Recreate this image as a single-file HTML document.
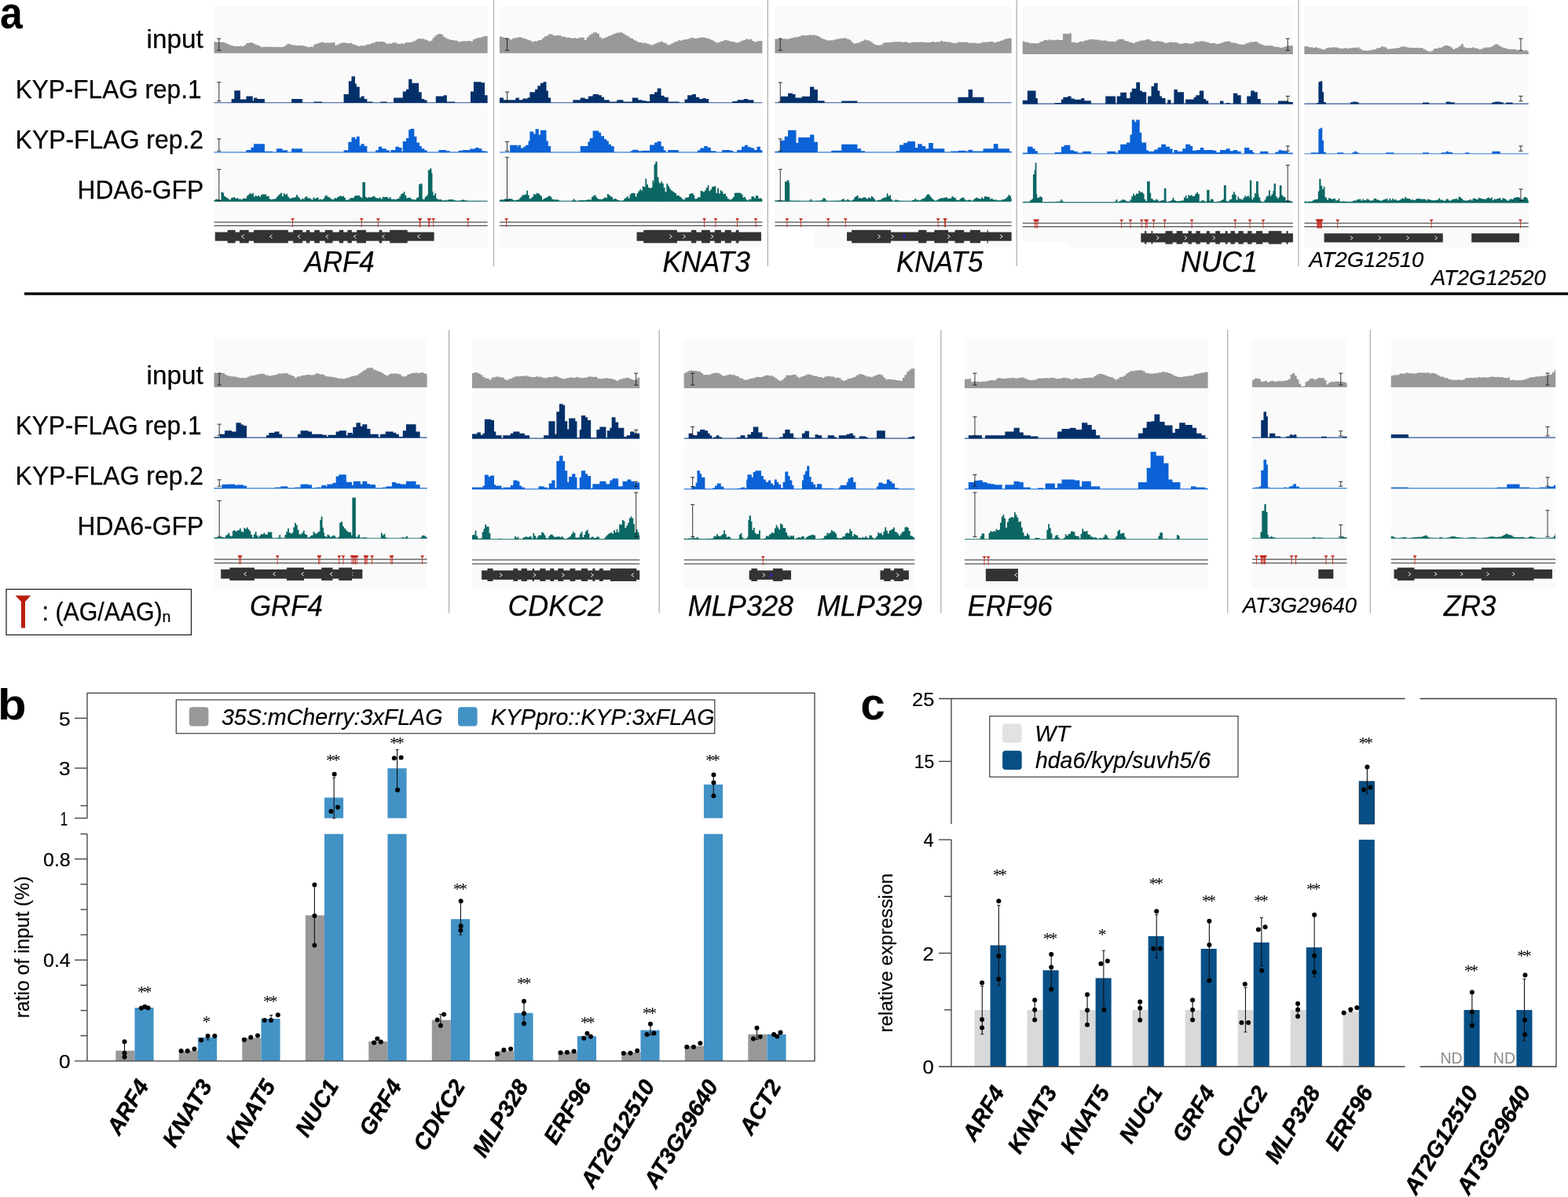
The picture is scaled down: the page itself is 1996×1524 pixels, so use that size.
<!DOCTYPE html>
<html lang="en"><head><meta charset="utf-8"><title>Figure</title>
<style>
html,body{margin:0;padding:0;background:#fff;}
body{width:1996px;height:1524px;overflow:hidden;font-family:'Liberation Sans', sans-serif;}
svg{display:block;}
</style></head><body>
<svg width="1996" height="1524" viewBox="0 0 1996 1524" font-family="'Liberation Sans', sans-serif">
<rect width="1996" height="1524" fill="#fff"/>
<text x="0.11" y="35.6" font-size="58" font-weight="bold" textLength="28.74" lengthAdjust="spacingAndGlyphs">a</text>
<text x="186.64" y="60.7" font-size="32.3" stroke="#000" stroke-width="0.25" textLength="72.11" lengthAdjust="spacingAndGlyphs">input</text>
<text x="19.65" y="124.9" font-size="32.3" stroke="#000" stroke-width="0.25" textLength="236.85" lengthAdjust="spacingAndGlyphs">KYP-FLAG rep.1</text>
<text x="19.62" y="188.8" font-size="32.3" stroke="#000" stroke-width="0.25" textLength="239.49" lengthAdjust="spacingAndGlyphs">KYP-FLAG rep.2</text>
<text x="98.53" y="253" font-size="32.3" stroke="#000" stroke-width="0.25" textLength="160.56" lengthAdjust="spacingAndGlyphs">HDA6-GFP</text>
<text x="186.64" y="488.9" font-size="32.3" stroke="#000" stroke-width="0.25" textLength="72.11" lengthAdjust="spacingAndGlyphs">input</text>
<text x="19.65" y="553.3" font-size="32.3" stroke="#000" stroke-width="0.25" textLength="236.85" lengthAdjust="spacingAndGlyphs">KYP-FLAG rep.1</text>
<text x="19.62" y="617.2" font-size="32.3" stroke="#000" stroke-width="0.25" textLength="239.49" lengthAdjust="spacingAndGlyphs">KYP-FLAG rep.2</text>
<text x="98.53" y="681.4" font-size="32.3" stroke="#000" stroke-width="0.25" textLength="160.56" lengthAdjust="spacingAndGlyphs">HDA6-GFP</text>
<line x1="628.5" y1="0" x2="628.5" y2="338.8" stroke="#a9a9a9" stroke-width="1.2"/>
<line x1="977.3" y1="0" x2="977.3" y2="338.8" stroke="#a9a9a9" stroke-width="1.2"/>
<line x1="1294.2" y1="0" x2="1294.2" y2="338.8" stroke="#a9a9a9" stroke-width="1.2"/>
<line x1="1653" y1="0" x2="1653" y2="338.8" stroke="#a9a9a9" stroke-width="1.2"/>
<line x1="571.6" y1="420" x2="571.6" y2="780.5" stroke="#a9a9a9" stroke-width="1.2"/>
<line x1="839.2" y1="420" x2="839.2" y2="780.5" stroke="#a9a9a9" stroke-width="1.2"/>
<line x1="1197.8" y1="420" x2="1197.8" y2="780.5" stroke="#a9a9a9" stroke-width="1.2"/>
<line x1="1562.7" y1="420" x2="1562.7" y2="780.5" stroke="#a9a9a9" stroke-width="1.2"/>
<line x1="1744.3" y1="420" x2="1744.3" y2="780.5" stroke="#a9a9a9" stroke-width="1.2"/>
<rect x="31" y="372.3" width="1965" height="3.4" fill="#000"/>
<rect x="272.51" y="7.8" width="348.1" height="307.8" fill="#fafafa"/>
<path d="M272.51 67.76V53.34H275.21V53.56H277.91V54.04H280.61V53.7H283.31V53.86H286.01V55.04H288.71V55.95H291.41V57.29H294.11V58.11H296.81V58.98H299.51V58.85H302.21V58.9H304.91V58.53H307.61V59.08H310.31V57.48H313.01V55.03H315.71V54.75H318.41V53.98H321.11V55.06H323.81V56.41H326.51V57.25H329.21V58.39H331.91V60.03H334.61V59.56H337.31V59.69H340.01V59.75H342.71V59.52H345.41V59.85H348.11V59.72H350.81V60.01H353.51V59.77H356.21V60.02H358.91V59.84H361.61V58.38H364.31V56.56H367.01V55.69H369.71V56.95H372.41V57.48H375.11V57.84H377.81V57.92H380.51V57.75H383.21V57.88H385.91V58.5H388.61V58.95H391.31V60.24H394.01V59.52H396.71V59.45H399.41V56.56H402.11V55.83H404.81V54.82H407.51V53.73H410.21V53.94H412.91V54.64H415.61V54.2H418.31V54.71H421.01V54.13H423.71V54.12H426.41V57.84H429.11V56.73H431.81V55.24H434.51V54.52H437.21V54.22H439.91V54.94H442.61V55.07H445.31V54.79H448.01V56H450.71V56.94H453.41V57.97H456.11V58.9H458.81V58.08H461.51V58.24H464.21V57.48H466.91V56.58H469.61V56.47H472.31V54.97H475.01V54.47H477.71V52.95H480.41V53.25H483.11V53.04H485.81V53.1H488.51V53.81H491.21V55.67H493.91V55.48H496.61V55.52H499.31V54.31H502.01V54.35H504.71V55.48H507.41V55.95H510.11V55.28H512.81V55.63H515.51V54.31H518.21V53.88H520.91V54.06H523.61V53.28H526.31V52.17H529.01V50.46H531.71V48.99H534.41V49.58H537.11V49.37H539.81V50.23H542.51V51.35H545.21V52.78H547.91V51.81H550.61V48.18H553.31V45.4H556.01V43.78H558.71V43.09H561.41V43.71H564.11V46.71H566.81V48.67H569.51V49.63H572.21V50.63H574.91V51H577.61V51.39H580.31V51.81H583.01V53.33H585.71V52.92H588.41V52.31H591.11V52.31H593.81V52.32H596.51V51.99H599.21V52.64H601.91V50.37H604.61V48.91H607.31V48.01H610.01V48.02H612.71V46.89H615.41V45.91H618.11V45.79H620.61V67.76Z" fill="#999999"/>
<line x1="272.51" y1="130.79" x2="620.61" y2="130.79" stroke="#2b5590" stroke-width="1.15"/>
<path d="M294.69 130.89V126.02H298.3V115.19H305.88V126.38H313.45V122.41H321.75V128.18H323.01V124.57H327.52V126.02H336.9V130.89M371.17 130.89V126.02H384.87V130.89M399.3 130.89V129.44H410.12V130.89M437.54 130.89V120.06H443.85V103.29H447.46V97.16H451.97V106.54H453.77V110.51H457.74V124.57H459.54V122.41H463.69V126.02H467.3V129.44H474.51V130.89M484.43 130.89V129.44H492.55V130.89M501.03 130.89V124.57H512.75V116.46H516.9V113.75H520.14V100.77H524.47V105.64H533.13V117.36H536.74V126.02H540.34V127.46H543.59V130.89M554.77 130.89V122.41H564.69V121.33H568.84V129.44H579.12V130.89M598.96 130.89V116.46H602.93V104.37H612.85V105.27H617V121.33H620.61V130.89" fill="#04306a"/>
<line x1="272.51" y1="193.91" x2="620.61" y2="193.91" stroke="#3a7fe0" stroke-width="1.15"/>
<path d="M313.45 194.01V190.95H319.4V187.7H323.01V183.37H336.9V192.75H347V194.01M351.87 194.01V189.14H359.62V191.31H365.94V194.01M371.17 194.01V189.14H384.87V194.01M437.54 194.01V191.31H443.31V180.85H447.46V174.71H451.97V176.88H453.77V173.63H457.74V185.54H459.54V183.37H463.69V185.9H467.3V194.01M478.12 194.01V191.31H481.73V186.8H486.24V189.14H491.65V191.31H495.62V194.01M497.42 194.01V190.95H503.37V186.8H507.88V188.06H511.49V192.75H512.75V180.12H516.9V175.98H520.14V165.15H522.31V163.89H527.36V173.63H530.42V181.39H534.03V185.9H536.74V189.14H540.34V191.31H543.59V194.01M558.38 194.01V190.95H568.3V192.21H572.81V194.01M583.63 194.01V191.67H589.04V190.95H598.06V189.5H604.91V188.06H609.78V189.14H613.39V192.21H617.9V192.75H620.61V194.01" fill="#0a62d6"/>
<line x1="272.51" y1="256.14" x2="620.61" y2="256.14" stroke="#2f7d78" stroke-width="1.15"/>
<path d="M272.51 256.24V254.79H274.31V253.53H276.11V253.73H277.91V254.5H279.71V254.61H281.51V244.2H283.31V245.4H285.11V249.86H286.91V251.11H288.71V252.31H290.51V253.51H292.31V254.26H294.11V251.95H295.91V251.2H297.71V251.26H299.51V253.02H301.31V252.04H303.11V253.48H304.91V253.34H306.71V254.13H308.51V252.65H310.31V252.57H312.11V252.86H313.91V249.26H315.71V247.7H317.51V245.81H319.31V247.16H321.11V245.81H322.91V250.38H324.71V248.87H326.51V250H328.31V248.78H330.11V250.42H331.91V248.18H333.71V247.31H335.51V247.72H337.31V247.36H339.11V250.11H340.91V249.61H342.71V253.26H344.51V253.88H346.31V253.51H348.11V253.45H349.91V253.1H351.71V250.66H353.51V248.81H355.31V247.19H357.11V245.57H358.91V249.9H360.71V246.02H362.51V248.03H364.31V246.66H366.11V250.62H367.91V252.54H369.71V252.38H371.51V251.47H373.31V251.72H375.11V250.93H376.91V247.91H378.71V250.24H380.51V252.19H382.31V254.37H384.11V252.74H385.91V253.43H387.71V250.94H389.51V250.04H391.31V252.3H393.11V252.17H394.91V253.39H396.71V254.23H398.51V251.3H400.31V253.04H402.11V251.88H403.91V251.59H405.71V254.33H407.51V253.39H409.31V254.28H411.11V253.05H412.91V249.77H414.71V248.45H416.51V250.47H418.31V251.31H420.11V252.38H421.91V253.96H423.71V253.87H425.51V251.99H427.31V252.41H429.11V250.97H430.91V250.05H432.71V249.13H434.51V250.13H436.31V249.5H438.11V251.66H439.91V254.82H441.71V254.42H443.51V253.7H445.31V252.17H447.11V252.02H448.91V252.06H450.71V249.78H452.51V248.77H454.31V249.22H456.11V248.68H457.91V250.62H459.71V252.12H461.51V251.02H463.31V250.18H465.11V250.84H466.91V251.94H468.71V251.03H470.51V251.53H472.31V250.92H474.11V249.89H475.91V249.71H477.71V251.91H479.51V252.2H481.31V252.59H483.11V251.4H484.91V253.43H486.71V250.77H488.51V251.06H490.31V250.71H492.11V250.95H493.91V252.78H495.71V251H497.51V253.58H499.31V253.79H501.11V253.59H502.91V254.2H504.71V252.91H506.51V252.86H508.31V250.19H510.11V247.04H511.91V246.29H513.71V244.19H515.51V248.71H517.31V252.13H519.11V251.71H520.91V251.48H522.71V253.22H524.51V253.73H526.31V254.18H528.11V254.23H529.91V252.12H531.71V250.99H533.51V253.71H535.31V252.53H537.11V253.45H538.91V253.69H540.71V250.72H542.51V249.34H544.31V247.42H546.11V250.88H547.91V244.12H549.71V244.11H551.51V248.7H553.31V246.09H555.11V252.62H556.91V253.63H558.71V254.04H560.51V253.85H562.31V255.33H564.11V255.13H565.91V254.83H567.71V255.25H569.51V254.23H571.31V254.35H573.11V253.83H574.91V254.09H576.71V254.5H578.51V255.2H580.31V255.87H582.11V255.64H583.91V255.65H585.71V254.99H587.51V254.56H589.31V254.2H591.11V255.17H592.91V255.26H594.71V255.98H596.51V256.05H598.31V255.93H600.11V256.09H601.91V255.98H603.71V256.02H605.51V256.12H607.31V256.08H609.11V256.11H610.91V256.11H612.71V256.14H614.51V256.16H616.31V256.19H618.11V256.22H619.91V256.23H620.61V256.24Z" fill="#0b6763"/>
<path d="M461.35 256.24V231.89H464.95V256.24M533.13 256.24V234.59H535.29V233.69H537.64V256.24M544.85 256.24V216.56H547.02V214.39H549.36V220.16H550.44V256.24" fill="#0b6763"/>
<path d="M278.82 49.18V64.15M276.22 49.18H281.42M276.22 64.15H281.42" fill="none" stroke="#1c1c1c" stroke-width="0.9"/>
<path d="M278.82 104.73V128.72M276.22 104.73H281.42M276.22 128.72H281.42" fill="none" stroke="#1c1c1c" stroke-width="0.9"/>
<path d="M278.82 176.88V192.21M276.22 176.88H281.42M276.22 192.21H281.42" fill="none" stroke="#1c1c1c" stroke-width="0.9"/>
<path d="M278.82 215.66V255.33M276.22 215.66H281.42M276.22 255.33H281.42" fill="none" stroke="#1c1c1c" stroke-width="0.9"/>
<line x1="272.51" y1="282.75" x2="620.61" y2="282.75" stroke="#505050" stroke-width="1.25"/>
<line x1="272.51" y1="287.44" x2="620.61" y2="287.44" stroke="#505050" stroke-width="1.25"/>
<path d="M370.21 277.95H375.01L373.03 280.85V289.14H372.19V280.85Z" fill="#c1271c"/>
<path d="M457.86 277.95H462.66L460.68 280.85V289.14H459.84V280.85Z" fill="#c1271c"/>
<path d="M478.97 277.95H483.77L481.79 280.85V289.14H480.95V280.85Z" fill="#c1271c"/>
<path d="M531.72 277.95H536.52L534.54 280.85V289.14H533.7V280.85Z" fill="#c1271c"/>
<path d="M532.62 277.95H537.42L535.44 280.85V289.14H534.6V280.85Z" fill="#c1271c"/>
<path d="M543.45 277.95H548.25L546.27 280.85V289.14H545.43V280.85Z" fill="#c1271c"/>
<path d="M544.35 277.95H549.15L547.17 280.85V289.14H546.33V280.85Z" fill="#c1271c"/>
<path d="M549.31 277.95H554.11L552.13 280.85V289.14H551.29V280.85Z" fill="#c1271c"/>
<path d="M593.32 277.95H598.12L596.14 280.85V289.14H595.3V280.85Z" fill="#c1271c"/>
<rect x="273.77" y="295.56" width="278.84" height="11.18" fill="#333333"/>
<rect x="289.64" y="292.85" width="9.92" height="16.59" fill="#333333"/>
<rect x="304.97" y="292.85" width="11.72" height="16.59" fill="#333333"/>
<rect x="323.01" y="292.85" width="43.83" height="16.59" fill="#333333"/>
<rect x="373.15" y="292.85" width="12.08" height="16.59" fill="#333333"/>
<rect x="389.74" y="292.85" width="4.51" height="16.59" fill="#333333"/>
<rect x="400.2" y="292.85" width="6.67" height="16.59" fill="#333333"/>
<rect x="413.73" y="292.85" width="9.74" height="16.59" fill="#333333"/>
<rect x="431.77" y="292.85" width="5.41" height="16.59" fill="#333333"/>
<rect x="442.41" y="292.85" width="5.41" height="16.59" fill="#333333"/>
<rect x="454.13" y="292.85" width="11.9" height="16.59" fill="#333333"/>
<rect x="482.63" y="292.85" width="3.61" height="16.59" fill="#333333"/>
<rect x="496.16" y="292.85" width="22.55" height="16.59" fill="#333333"/>
<path d="M310.72 298.75L307.52 301.15L310.72 303.55" fill="none" stroke="#f4f4f4" stroke-width="0.95"/>
<path d="M346.61 298.75L343.41 301.15L346.61 303.55" fill="none" stroke="#f4f4f4" stroke-width="0.95"/>
<path d="M382.33 298.75L379.13 301.15L382.33 303.55" fill="none" stroke="#f4f4f4" stroke-width="0.95"/>
<path d="M418.04 298.75L414.84 301.15L418.04 303.55" fill="none" stroke="#f4f4f4" stroke-width="0.95"/>
<path d="M453.57 298.75L450.37 301.15L453.57 303.55" fill="none" stroke="#f4f4f4" stroke-width="0.95"/>
<path d="M489.64 298.75L486.44 301.15L489.64 303.55" fill="none" stroke="#f4f4f4" stroke-width="0.95"/>
<path d="M534.73 298.75L531.53 301.15L534.73 303.55" fill="none" stroke="#f4f4f4" stroke-width="0.95"/>
<rect x="635.97" y="7.8" width="334.39" height="307.8" fill="#fafafa"/>
<path d="M635.97 67.76V46.45H638.67V47.34H641.37V48.06H644.07V48.67H646.77V49.68H649.47V50.42H652.17V48.79H654.87V48.13H657.57V47.68H660.27V47.25H662.97V47.74H665.67V48.92H668.37V49.46H671.07V50.79H673.77V51.55H676.47V53.32H679.17V52.48H681.87V52.57H684.57V51.15H687.27V51.09H689.97V48.86H692.67V46.23H695.37V45.39H698.07V43.41H700.77V43.45H703.47V45.11H706.17V45.51H708.87V44.84H711.57V45.37H714.27V46.45H716.97V46.87H719.67V47.67H722.37V47.79H725.07V48.29H727.77V48.69H730.47V48.33H733.17V48.95H735.87V48.17H738.57V47.39H741.27V48.08H743.97V51.04H746.67V47.5H749.37V44.78H752.07V43.04H754.77V41.33H757.47V41.33H760.17V42.66H762.87V47.34H765.57V49.3H768.27V48.31H770.97V47.33H773.67V46.07H776.37V45.05H779.07V43.79H781.77V42.42H784.47V41.73H787.17V41.38H789.87V41.34H792.57V42.67H795.27V44.52H797.97V45.8H800.67V47.94H803.37V48.9H806.07V50.68H808.77V52.14H811.47V53.84H814.17V54.08H816.87V54.73H819.57V54.46H822.27V55.45H824.97V55.89H827.67V57.48H830.37V56.72H833.07V55.61H835.77V54.41H838.47V53.53H841.17V52.86H843.87V54.35H846.57V55.18H849.27V57.21H851.97V56.45H854.67V55.23H857.37V53.44H860.07V53.04H862.77V51.37H865.47V51.68H868.17V50.78H870.87V50.21H873.57V49.96H876.27V49.32H878.97V48.03H881.67V48.43H884.37V49.06H887.07V48.4H889.77V47.96H892.47V47.45H895.17V47.64H897.87V48.38H900.57V48.91H903.27V50.14H905.97V51.17H908.67V53.12H911.37V54.45H914.07V53.75H916.77V52.83H919.47V51.97H922.17V50.88H924.87V51.52H927.57V52.15H930.27V52.96H932.97V53.14H935.67V54.36H938.37V54.26H941.07V52.63H943.77V51.67H946.47V50.91H949.17V49.5H951.87V50.17H954.57V49.74H957.27V51.89H959.97V53.4H962.67V52.57H965.37V52.31H968.07V51.97H970.36V67.76Z" fill="#999999"/>
<line x1="635.97" y1="130.79" x2="970.36" y2="130.79" stroke="#2b5590" stroke-width="1.15"/>
<path d="M635.97 130.89V124.57H641.02V127.28H656.35V124.57H660.86V127.28H665.37V125.47H671.68V124.21H674.38V117.36H681.06V113.75H684.3V109.24H687.91V105.64H691.52V104.37H695.49V115.56H697.83V124.57H701.08V130.89M729.39 130.89V127.28H738.77V124.57H744.73V126.02H748.87V122.41H754.65V120.06H762.22V121.33H765.83V123.67H769.07V127.28H775.75V129.44H785.31V127.28H793.42V129.62H804.79V124.57H812.36V127.28H817.77V128.18H822.82V129.08H827.15V120.06H833.1V117.36H836.71V112.49H841.58V121.87H845.73V123.67H850.78V129.62H864.67V130.89M871.52 130.89V126.38H875.13V121.33H880.9V120.06H885.95V123.67H890.28V126.02H894.42V124.93H898.57V126.02H902.18V130.89M932.3 130.89V129.08H938.61V127.28H946.73V126.02H952.14V127.28H959.35V130.89" fill="#04306a"/>
<line x1="635.97" y1="193.91" x2="970.36" y2="193.91" stroke="#3a7fe0" stroke-width="1.15"/>
<path d="M649.13 194.01V184.63H658.69V187.7H659.41V184.63H663.02V188.6H666.27V186.8H668.97V184.63H672.58V179.58H674.38V167.5H679.25V170.57H681.6V164.25H685.75V171.47H687.91V165.7H695.49V179.58H697.83V185.9H701.08V194.01M738.77 194.01V185.9H748.33V180.48H750.68V175.98H754.65V166.42H762.22V168.76H765.11V173.27H769.07V177.24H772.32V179.58H774.85V183.73H778.09V186.26H781.7V194.01M802.44 194.01V192.21H805.15V190.77H812.36V192.21H818.13V191.67H827.15V184.45H833.1V181.39H836.71V179.94H841.58V186.26H844.83V191.31H847.53V194.01M850.24 194.01V190.95H863.76V194.01M888.11 194.01V191.31H891.36V188.6H896.23V185.9H900.74V187.7H904.71V192.21H911.56V194.01M919.13 194.01V190.95H929.6V191.85H933.2V194.01M938.25 194.01V190.95H944.02V186.8H947.99V184.63H952.14V187.34H956.29V188.6H960.26V190.95H963.5V186.8H967.83V190.95H970.36V194.01" fill="#0a62d6"/>
<line x1="635.97" y1="256.14" x2="970.36" y2="256.14" stroke="#2f7d78" stroke-width="1.15"/>
<path d="M635.97 256.24V254.57H637.77V253.95H639.57V254.38H641.37V253.41H643.17V253.23H644.97V253.75H646.77V253H648.57V253.11H650.37V253.25H652.17V254.25H653.97V255.3H655.77V254.93H657.57V254.33H659.37V254.28H661.17V252.12H662.97V250.32H664.77V248.35H666.57V248.21H668.37V247.53H670.17V242.75H671.97V248.6H673.77V253.2H675.57V251.9H677.37V250.37H679.17V247.11H680.97V247.86H682.77V245.67H684.57V246.29H686.37V247.64H688.17V249.85H689.97V254.13H691.77V252.89H693.57V251.89H695.37V251.54H697.17V250.1H698.97V249.25H700.77V251.05H702.57V253.8H704.37V253.64H706.17V254.62H707.97V254H709.77V254.52H711.57V255.73H713.37V255.96H715.17V256.24H716.97V256.24H718.77V256.24H720.57V256.24H722.37V256.24H724.17V256.24H725.97V256.24H727.77V255.49H729.57V253.27H731.37V255.06H733.17V256.19H734.97V255.56H736.77V255.16H738.57V254.75H740.37V254.81H742.17V254.9H743.97V254.92H745.77V254.39H747.57V254.26H749.37V253.96H751.17V254.62H752.97V250.71H754.77V249.5H756.57V248.18H758.37V250.66H760.17V253.07H761.97V253.38H763.77V253.86H765.57V253.69H767.37V252.81H769.17V251.31H770.97V251.9H772.77V246.92H774.57V248.31H776.37V249.7H778.17V251.09H779.97V253.81H781.77V252.76H783.57V253.43H785.37V254.61H787.17V254.96H788.97V255.85H790.77V255.75H792.57V254.89H794.37V252.82H796.17V251.87H797.97V250.12H799.77V252.41H801.57V247.42H803.37V246.07H805.17V245.72H806.97V246.32H808.77V250.2H810.57V245.94H812.37V243.42H814.17V240.9H815.97V242.47H817.77V237.3H819.57V237.9H821.37V227.41H823.17V234.77H824.97V238.84H826.77V239.55H828.57V238.89H830.37V229.65H832.17V232.67H833.97V227.85H835.77V234.39H837.57V231.81H839.37V233.44H841.17V230.93H842.97V233.61H844.77V238.76H846.57V244.3H848.37V233.74H850.17V236.81H851.97V240.05H853.77V242.36H855.57V243.56H857.37V244.76H859.17V246.02H860.97V249.08H862.77V248.87H864.57V250.23H866.37V251.62H868.17V253.42H869.97V254.32H871.77V251.84H873.57V251.83H875.37V250.98H877.17V246.96H878.97V246.36H880.77V246.01H882.57V248.38H884.37V253.24H886.17V253.01H887.97V250.95H889.77V251.19H891.57V242.88H893.37V243.45H895.17V244.44H896.97V242.26H898.77V238.96H900.57V235.77H902.37V243.31H904.17V241.35H905.97V238.01H907.77V237.53H909.57V237.05H911.37V245.63H913.17V239.51H914.97V246.56H916.77V242.33H918.57V243.68H920.37V247.09H922.17V246.38H923.97V249.86H925.77V252.59H927.57V253.64H929.37V254.28H931.17V253.05H932.97V250.68H934.77V245.79H936.57V245.41H938.37V245.41H940.17V245.41H941.97V245.95H943.77V247.45H945.57V251.51H947.37V250.69H949.17V253.87H950.97V255.22H952.77V253.68H954.57V253.76H956.37V250.31H958.17V249.89H959.97V252.24H961.77V248.96H963.57V249.19H965.37V252.87H967.17V252.36H968.97V253.28H970.36V256.24Z" fill="#0b6763"/>
<path d="M832.56 256.24V209.34H834.36V205.74H836.71V225.58H838.51V256.24" fill="#0b6763"/>
<path d="M645.53 49.18V64.15M642.93 49.18H648.13M642.93 64.15H648.13" fill="none" stroke="#1c1c1c" stroke-width="0.9"/>
<path d="M645.53 117V129.98M642.93 117H648.13M642.93 129.98H648.13" fill="none" stroke="#1c1c1c" stroke-width="0.9"/>
<path d="M645.53 180.48V192.21M642.93 180.48H648.13M642.93 192.21H648.13" fill="none" stroke="#1c1c1c" stroke-width="0.9"/>
<path d="M645.53 200.32V255.33M642.93 200.32H648.13M642.93 255.33H648.13" fill="none" stroke="#1c1c1c" stroke-width="0.9"/>
<line x1="635.97" y1="282.75" x2="970.36" y2="282.75" stroke="#505050" stroke-width="1.25"/>
<line x1="635.97" y1="287.44" x2="970.36" y2="287.44" stroke="#505050" stroke-width="1.25"/>
<path d="M642.23 277.95H647.03L645.05 280.85V289.14H644.21V280.85Z" fill="#c1271c"/>
<path d="M894.19 277.95H898.99L897.01 280.85V289.14H896.17V280.85Z" fill="#c1271c"/>
<path d="M908.62 277.95H913.42L911.44 280.85V289.14H910.6V280.85Z" fill="#c1271c"/>
<path d="M936.21 277.95H941.01L939.03 280.85V289.14H938.19V280.85Z" fill="#c1271c"/>
<path d="M959.66 277.95H964.46L962.48 280.85V289.14H961.64V280.85Z" fill="#c1271c"/>
<rect x="810.56" y="295.56" width="158.36" height="11.18" fill="#333333"/>
<rect x="819.21" y="292.85" width="42.75" height="16.59" fill="#333333"/>
<rect x="880" y="292.85" width="6.31" height="16.59" fill="#333333"/>
<rect x="892.98" y="292.85" width="10.82" height="16.59" fill="#333333"/>
<rect x="909.76" y="292.85" width="8.12" height="16.59" fill="#333333"/>
<rect x="922.74" y="292.85" width="8.12" height="16.59" fill="#333333"/>
<rect x="936.81" y="292.85" width="3.61" height="16.59" fill="#333333"/>
<path d="M852.24 298.75L855.44 301.15L852.24 303.55" fill="none" stroke="#f4f4f4" stroke-width="0.95"/>
<path d="M869.38 298.75L872.58 301.15L869.38 303.55" fill="none" stroke="#f4f4f4" stroke-width="0.95"/>
<path d="M904.91 298.75L908.11 301.15L904.91 303.55" fill="none" stroke="#f4f4f4" stroke-width="0.95"/>
<rect x="986.43" y="7.8" width="301.2" height="307.8" fill="#fafafa"/>
<rect x="985.53" y="290.51" width="51.4" height="26.15" fill="#fff"/>
<path d="M986.43 67.76V49.4H989.13V49.67H991.83V49.5H994.53V49.6H997.23V49.34H999.93V49.79H1002.63V49.48H1005.33V48.68H1008.03V48.32H1010.73V47.27H1013.43V47.34H1016.13V46.58H1018.83V45.58H1021.53V44.79H1024.23V45.19H1026.93V44.96H1029.63V44.37H1032.33V44.63H1035.03V44.5H1037.73V45.22H1040.43V45.99H1043.13V47.79H1045.83V49.22H1048.53V50.08H1051.23V51.23H1053.93V51.49H1056.63V51.22H1059.33V51.33H1062.03V50.26H1064.73V49.83H1067.43V49.15H1070.13V48.8H1072.83V48.52H1075.53V48.52H1078.23V49.66H1080.93V50.8H1083.63V53.57H1086.33V55.39H1089.03V55.1H1091.73V54.34H1094.43V53.32H1097.13V52.08H1099.83V50.62H1102.53V51.16H1105.23V51.78H1107.93V53.59H1110.63V55.39H1113.33V57.06H1116.03V57.52H1118.73V57.55H1121.43V56.72H1124.13V54.48H1126.83V53.99H1129.53V54.14H1132.23V53.67H1134.93V53.46H1137.63V53.22H1140.33V53.2H1143.03V52.9H1145.73V53.48H1148.43V53.78H1151.13V53.24H1153.83V54.04H1156.53V54.73H1159.23V53.96H1161.93V53.59H1164.63V53.78H1167.33V53.78H1170.03V53.75H1172.73V53.43H1175.43V53.73H1178.13V54.02H1180.83V53.88H1183.53V53.63H1186.23V53.03H1188.93V53.68H1191.63V53.32H1194.33V53.56H1197.03V51.94H1199.73V53.12H1202.43V53.09H1205.13V53.56H1207.83V53.58H1210.53V54.53H1213.23V55.03H1215.93V54.63H1218.63V53.5H1221.33V53.71H1224.03V53.55H1226.73V53.72H1229.43V53.82H1232.13V54.64H1234.83V54.4H1237.53V54.85H1240.23V54.7H1242.93V55.28H1245.63V55.05H1248.33V54.56H1251.03V53.58H1253.73V53.68H1256.43V53.38H1259.13V52.93H1261.83V52.99H1264.53V54.15H1267.23V53.43H1269.93V53H1272.63V51.89H1275.33V51.14H1278.03V49.71H1280.73V49.2H1283.43V48.71H1286.13V48.9H1287.63V67.76Z" fill="#999999"/>
<line x1="986.43" y1="130.79" x2="1287.63" y2="130.79" stroke="#2b5590" stroke-width="1.15"/>
<path d="M993.64 130.89V122.77H1003.02V118.8H1008.97V120.06H1012.58V124.57H1020.7V122.77H1030.98V110.51H1036.39V114.11H1040.9V128.18H1049.56V130.89M1071.2 130.89V128.54H1091.4V130.89M1219.45 130.89V123.67H1232.62V114.11H1238.03V123.67H1252.46V130.89" fill="#04306a"/>
<line x1="986.43" y1="193.91" x2="1287.63" y2="193.91" stroke="#3a7fe0" stroke-width="1.15"/>
<path d="M986.43 194.01V192.75H993.64V178.68H998.69V173.63H1003.02V165.7H1013.48V181.93H1016.19V175.07H1030.98V171.47H1036.39V180.85H1040.9V194.01M1058.21 194.01V191.67H1071.2V183.73H1091.4V189.14H1096.09V192.21H1100.96V194.01M1140.64 194.01V192.21H1145.15V184.45H1150.2V181.93H1155.07V179.94H1164.99V188.06H1168.23V183.37H1173.64V185.9H1178.15V189.14H1182.12V181.93H1187.89V189.14H1202.32V194.01M1210.08 194.01V192.57H1220V191.67H1229.01V192.57H1232.62V190.77H1238.03V192.57H1251.56V189.14H1264.73V183.37H1270.5V189.14H1284.93V192.75H1287.63V194.01" fill="#0a62d6"/>
<line x1="986.43" y1="256.14" x2="1287.63" y2="256.14" stroke="#2f7d78" stroke-width="1.15"/>
<path d="M986.43 256.24V255.33H988.23V255.33H990.03V255.35H991.83V255.57H993.63V255.65H995.43V255.33H997.23V255.4H999.03V255.72H1000.83V255.52H1002.63V255.51H1004.43V255.78H1006.23V255.61H1008.03V255.66H1009.83V255.71H1011.63V255.76H1013.43V255.81H1015.23V255.86H1017.03V255.91H1018.83V256.01H1020.63V256.01H1022.43V256.13H1024.23V256.14H1026.03V256.16H1027.83V256.21H1029.63V255.42H1031.43V253.62H1033.23V255.68H1035.03V256.2H1036.83V256.02H1038.63V255.87H1040.43V255.72H1042.23V255.57H1044.03V255.42H1045.83V254.34H1047.63V252.06H1049.43V252.63H1051.23V255.49H1053.03V256.21H1054.83V256.13H1056.63V256.01H1058.43V255.91H1060.23V255.82H1062.03V255.94H1063.83V255.82H1065.63V255.53H1067.43V255.75H1069.23V255.49H1071.03V253.95H1072.83V253.12H1074.63V254.92H1076.43V255.55H1078.23V253.72H1080.03V254.74H1081.83V256.11H1083.63V255.19H1085.43V254.03H1087.23V251.23H1089.03V249.94H1090.83V248.66H1092.63V252.4H1094.43V251.68H1096.23V252.67H1098.03V251.39H1099.83V250.97H1101.63V252.31H1103.43V253.19H1105.23V251.35H1107.03V252.55H1108.83V249.83H1110.63V251.24H1112.43V253.54H1114.23V255.98H1116.03V255.26H1117.83V254.54H1119.63V254.72H1121.43V253.25H1123.23V252.24H1125.03V251.48H1126.83V251.2H1128.63V246.19H1130.43V249.61H1132.23V248.55H1134.03V253.73H1135.83V255.92H1137.63V255.71H1139.43V254.26H1141.23V254.67H1143.03V255.14H1144.83V255.75H1146.63V255.92H1148.43V256.01H1150.23V256.01H1152.03V256.15H1153.83V256.16H1155.63V256.19H1157.43V256.2H1159.23V255.93H1161.03V254.89H1162.83V254.33H1164.63V252.83H1166.43V254.85H1168.23V254.57H1170.03V255.42H1171.83V253.94H1173.63V252.86H1175.43V252.77H1177.23V250.64H1179.03V248.23H1180.83V246.99H1182.63V248.7H1184.43V251.01H1186.23V253.15H1188.03V254.6H1189.83V255.93H1191.63V255.09H1193.43V253.68H1195.23V253.27H1197.03V252.08H1198.83V252.53H1200.63V251.71H1202.43V251.49H1204.23V251.36H1206.03V252.92H1207.83V252.47H1209.63V252.62H1211.43V249.65H1213.23V251.27H1215.03V251.95H1216.83V254.36H1218.63V255.06H1220.43V254.23H1222.23V252.81H1224.03V251.69H1225.83V251.41H1227.63V253.93H1229.43V255.5H1231.23V254.82H1233.03V254.16H1234.83V254.84H1236.63V256.04H1238.43V254.26H1240.23V252.64H1242.03V251.52H1243.83V252.24H1245.63V252.96H1247.43V253.15H1249.23V251.35H1251.03V252.92H1252.83V249.92H1254.63V250.29H1256.43V250.84H1258.23V250.78H1260.03V253.42H1261.83V252.56H1263.63V254.23H1265.43V254.21H1267.23V254.32H1269.03V255.13H1270.83V255.04H1272.63V255.17H1274.43V254.27H1276.23V254.01H1278.03V253.61H1279.83V252.41H1281.63V250.53H1283.43V248.02H1285.23V249.48H1287.03V252.77H1287.63V256.24Z" fill="#0b6763"/>
<path d="M999.05 256.24V231.35H1001.76V229.54H1004.46V232.79H1005.19V256.24" fill="#0b6763"/>
<path d="M993.28 49.18V64.15M990.68 49.18H995.88M990.68 64.15H995.88" fill="none" stroke="#1c1c1c" stroke-width="0.9"/>
<path d="M993.28 105.09V129.62M990.68 105.09H995.88M990.68 129.62H995.88" fill="none" stroke="#1c1c1c" stroke-width="0.9"/>
<path d="M993.28 176.88V192.21M990.68 176.88H995.88M990.68 192.21H995.88" fill="none" stroke="#1c1c1c" stroke-width="0.9"/>
<path d="M993.28 215.66V255.33M990.68 215.66H995.88M990.68 255.33H995.88" fill="none" stroke="#1c1c1c" stroke-width="0.9"/>
<line x1="986.43" y1="282.75" x2="1287.63" y2="282.75" stroke="#505050" stroke-width="1.25"/>
<line x1="986.43" y1="287.44" x2="1287.63" y2="287.44" stroke="#505050" stroke-width="1.25"/>
<path d="M999.54 277.95H1004.34L1002.36 280.85V289.14H1001.52V280.85Z" fill="#c1271c"/>
<path d="M1017.03 277.95H1021.83L1019.85 280.85V289.14H1019.01V280.85Z" fill="#c1271c"/>
<path d="M1051.84 277.95H1056.64L1054.66 280.85V289.14H1053.82V280.85Z" fill="#c1271c"/>
<path d="M1073.85 277.95H1078.65L1076.67 280.85V289.14H1075.83V280.85Z" fill="#c1271c"/>
<path d="M1191.8 277.95H1196.6L1194.62 280.85V289.14H1193.78V280.85Z" fill="#c1271c"/>
<path d="M1200.24 277.95H1205.04L1203.06 280.85V289.14H1202.22V280.85Z" fill="#c1271c"/>
<path d="M1201.04 277.95H1205.84L1203.86 280.85V289.14H1203.02V280.85Z" fill="#c1271c"/>
<rect x="1078.05" y="295.56" width="209.58" height="11.18" fill="#333333"/>
<rect x="1084.18" y="292.85" width="49.78" height="16.59" fill="#333333"/>
<rect x="1169.13" y="292.85" width="10.28" height="16.59" fill="#333333"/>
<rect x="1189.33" y="292.85" width="17.68" height="16.59" fill="#333333"/>
<rect x="1215.49" y="292.85" width="11.72" height="16.59" fill="#333333"/>
<rect x="1234.79" y="292.85" width="13.17" height="16.59" fill="#333333"/>
<rect x="1256.61" y="292.85" width="1.26" height="16.59" fill="#333333"/>
<path d="M1117.39 298.75L1120.59 301.15L1117.39 303.55" fill="none" stroke="#f4f4f4" stroke-width="0.95"/>
<path d="M1134.53 298.75L1137.73 301.15L1134.53 303.55" fill="none" stroke="#f4f4f4" stroke-width="0.95"/>
<path d="M1206.13 298.75L1209.33 301.15L1206.13 303.55" fill="none" stroke="#f4f4f4" stroke-width="0.95"/>
<path d="M1273.05 298.75L1276.25 301.15L1273.05 303.55" fill="none" stroke="#f4f4f4" stroke-width="0.95"/>
<path d="M1149.5 298.75L1152.7 301.15L1149.5 303.55" fill="none" stroke="#2626f0" stroke-width="1.1"/>
<rect x="1301.77" y="7.8" width="344.13" height="307.8" fill="#fafafa"/>
<rect x="1300.87" y="308.54" width="59.16" height="8.12" fill="#fff"/>
<path d="M1301.77 69.02V52.61H1304.47V53.63H1307.17V54.01H1309.87V54.92H1312.57V54.88H1315.27V54.89H1317.97V55.37H1320.67V54.94H1323.37V53.34H1326.07V52.48H1328.77V50.95H1331.47V51.26H1334.17V50.6H1336.87V50.71H1339.57V51.31H1342.27V50.63H1344.97V50.39H1347.67V51.06H1350.37V51.03H1353.07V42.66H1355.77V42.92H1358.47V42.88H1361.17V42.23H1363.87V53.81H1366.57V54.12H1369.27V54.75H1371.97V53.62H1374.67V52.86H1377.37V52.8H1380.07V51.42H1382.77V51.19H1385.47V50.26H1388.17V50.09H1390.87V50.21H1393.57V50.49H1396.27V50.39H1398.97V51.26H1401.67V51.63H1404.37V51.5H1407.07V51.72H1409.77V52.77H1412.47V52.68H1415.17V52.63H1417.87V53.16H1420.57V51.58H1423.27V50.08H1425.97V50.05H1428.67V50.1H1431.37V51.97H1434.07V52.38H1436.77V53.59H1439.47V54.24H1442.17V54.91H1444.87V53.41H1447.57V52.94H1450.27V51.84H1452.97V51.6H1455.67V51.14H1458.37V50.31H1461.07V49.96H1463.77V51.52H1466.47V52.7H1469.17V52.73H1471.87V52.09H1474.57V52.57H1477.27V52.67H1479.97V53.64H1482.67V54.89H1485.37V54.25H1488.07V53.43H1490.77V53.77H1493.47V54.11H1496.17V54.03H1498.87V55.13H1501.57V55.77H1504.27V55.54H1506.97V55.06H1509.67V54.87H1512.37V55.38H1515.07V55.42H1517.77V54.88H1520.47V52.98H1523.17V53.15H1525.87V52.72H1528.57V52.24H1531.27V52.85H1533.97V53.18H1536.67V54.09H1539.37V55.1H1542.07V55.04H1544.77V55.07H1547.47V56.06H1550.17V55.82H1552.87V55H1555.57V53.77H1558.27V52.95H1560.97V52.73H1563.67V52.61H1566.37V54.16H1569.07V54.41H1571.77V54.94H1574.47V55.83H1577.17V56.65H1579.87V56.47H1582.57V56.74H1585.27V55.27H1587.97V54.38H1590.67V53.4H1593.37V53.41H1596.07V52.88H1598.77V53.18H1601.47V55.31H1604.17V56.27H1606.87V57.19H1609.57V58.34H1612.27V58.04H1614.97V58.37H1617.67V58.06H1620.37V59.33H1623.07V59.71H1625.77V59.83H1628.47V60.72H1631.17V60.46H1633.87V59.74H1636.57V58.76H1639.27V58.2H1641.97V58.09H1644.67V58.44H1645.9V69.02Z" fill="#999999"/>
<line x1="1301.77" y1="132.05" x2="1645.9" y2="132.05" stroke="#2b5590" stroke-width="1.15"/>
<path d="M1301.77 132.15V127.64H1307.9V115.56H1318.55V124.93H1320.89V132.15M1342.53 132.15V130.89H1351.01V126.38H1353.35V123.67H1359.13V122.41H1363.64V125.47H1367.78V126.74H1376.26V124.93H1380.41V128.18H1388.89V132.15M1407.28 132.15V122.41H1420.09V131.79H1421.71V122.41H1426.22V117.72H1433.98V124.93H1438.48V117.36H1440.83V112.85H1446.24V104.73H1451.11V115.56H1453.82V117.36H1459.23V131.79H1461.21V122.41H1465.54V109.78H1469.15V105.64H1473.66V115.56H1476.36V122.41H1479.07V124.93H1483.58V131.79H1486.28V127.28H1490.43V131.79H1494.4V114.11H1498.91V117.36H1507.02V131.79H1509.19V126.38H1519.65V123.67H1522.35V121.33H1526.86V115.56H1532.27V126.02H1534.98V128.18H1538.22V132.15M1553.01 132.15V128.54H1557.52V132.15M1560.77 132.15V130.89H1565.64V132.15M1569.79 132.15V118.8H1575.2V121.33H1579.71V132.15M1587.28 132.15V122.41H1592.15V115.56H1596.84V117.36H1600.81V126.02H1604.78V132.15M1626.96 132.15V128.54H1639.59V129.98H1645.9V132.15" fill="#04306a"/>
<line x1="1301.77" y1="195.72" x2="1645.9" y2="195.72" stroke="#3a7fe0" stroke-width="1.15"/>
<path d="M1301.77 195.82V194.55H1307.9V186.8H1314.58V189.14H1317.64V192.21H1320.89V195.82M1342.53 195.82V194.01H1351.01V186.8H1354.62V184.63H1362.37V191.31H1367.24V192.75H1371.75V194.55H1378.06V192.75H1388.89V195.82M1409.27 195.82V192.75H1420.09V194.55H1423.15V191.31H1426.22V183.73H1433.98V181.39H1438.48V171.47H1440.83V152.53H1444.26V155.23H1446.24V152.53H1450.75V168.76H1453.27V181.39H1459.23V191.31H1461.93V192.75H1469.15V190.4H1473.66V187.7H1478.16V183.73H1484.12V186.8H1488.99V189.5H1492.59V194.55H1494.4V190.95H1498.91V192.75H1505.22V189.14H1509.19V183.73H1515.14V185.9H1518.2V191.67H1522.35V190.95H1527.76V188.06H1532.27V190.95H1544.9V191.67H1548.51V194.01H1553.01V190.95H1560.77V189.14H1565.64V192.21H1569.79V190.95H1575.2V192.75H1579.71V195.82M1584.04 195.82V188.06H1590.35V190.95H1594.5V194.01H1596.84V195.82M1604.06 195.82V192.75H1614.34V195.82M1623.35 195.82V193.47H1627.5V190.95H1631.47V191.67H1635.98V192.75H1639.59V194.55H1645.9V195.82" fill="#0a62d6"/>
<line x1="1301.77" y1="257.58" x2="1645.9" y2="257.58" stroke="#2f7d78" stroke-width="1.15"/>
<path d="M1301.77 257.68V257.04H1303.57V256.86H1305.37V256.67H1307.17V256.85H1308.97V256.81H1310.77V255.3H1312.57V253.95H1314.37V252.45H1316.17V250.88H1317.97V249.3H1319.77V251.97H1321.57V251.59H1323.37V250.02H1325.17V251.03H1326.97V257.21H1328.77V257.36H1330.57V257.03H1332.37V256.98H1334.17V256.96H1335.97V257.26H1337.77V256.87H1339.57V257.2H1341.37V257.02H1343.17V256.77H1344.97V256.69H1346.77V256.61H1348.57V256.33H1350.37V254.08H1352.17V256.43H1353.97V257.41H1355.77V257.14H1357.57V257.27H1359.37V257.33H1361.17V257.34H1362.97V257.23H1364.77V257.14H1366.57V257.35H1368.37V257.16H1370.17V257.18H1371.97V257.14H1373.77V257.14H1375.57V257.14H1377.37V257.4H1379.17V257.14H1380.97V257.19H1382.77V257.15H1384.57V257.18H1386.37V257.14H1388.17V257.39H1389.97V257.14H1391.77V257.19H1393.57V257.14H1395.37V257.15H1397.17V257.14H1398.97V257.14H1400.77V257.14H1402.57V257.28H1404.37V257.14H1406.17V257.38H1407.97V257.14H1409.77V257.14H1411.57V257.14H1413.37V257.34H1415.17V257.14H1416.97V257.26H1418.77V256.55H1420.57V254.05H1422.37V256.99H1424.17V256.26H1425.97V255.62H1427.77V253.89H1429.57V254.52H1431.37V254.41H1433.17V256.17H1434.97V256.3H1436.77V256.62H1438.57V254.11H1440.37V250.01H1442.17V246.86H1443.97V249.12H1445.77V246.59H1447.57V246.87H1449.37V242.99H1451.17V244.82H1452.97V244.82H1454.77V246.45H1456.57V253.71H1458.37V256.01H1460.17V255.7H1461.97V253.52H1463.77V253.29H1465.57V252.66H1467.37V254.46H1469.17V255.3H1470.97V253.54H1472.77V254.62H1474.57V256.14H1476.37V255.78H1478.17V254.88H1479.97V254.77H1481.77V255.45H1483.57V256.12H1485.37V257.16H1487.17V256.25H1488.97V255.88H1490.77V254.78H1492.57V251.79H1494.37V254.75H1496.17V255.7H1497.97V256.31H1499.77V255.9H1501.57V255.86H1503.37V255.45H1505.17V255.37H1506.97V251.56H1508.77V248.81H1510.57V252.41H1512.37V248.36H1514.17V249.27H1515.97V248.24H1517.77V250.01H1519.57V249.62H1521.37V246.73H1523.17V244.95H1524.97V247.11H1526.77V256.65H1528.57V255.43H1530.37V254.97H1532.17V255.8H1533.97V256.75H1535.77V256.18H1537.57V254.94H1539.37V255.83H1541.17V253.14H1542.97V253.92H1544.77V256.92H1546.57V256.95H1548.37V256.85H1550.17V256.6H1551.97V256.35H1553.77V255.23H1555.57V254.23H1557.37V253.57H1559.17V255.28H1560.97V255.94H1562.77V256.42H1564.57V254.61H1566.37V253.48H1568.17V247.77H1569.97V244.31H1571.77V247.86H1573.57V254.6H1575.37V250.48H1577.17V253.21H1578.97V253.41H1580.77V254.35H1582.57V251.83H1584.37V249.31H1586.17V250.5H1587.97V249.02H1589.77V251.28H1591.57V250.68H1593.37V254.11H1595.17V251.46H1596.97V246.04H1598.77V249.34H1600.57V246.84H1602.37V251.13H1604.17V255.78H1605.97V257.06H1607.77V256.69H1609.57V254.2H1611.37V250.47H1613.17V249.34H1614.97V242.21H1616.77V249.52H1618.57V247.17H1620.37V243.05H1622.17V246.65H1623.97V250.25H1625.77V252.76H1627.57V251.02H1629.37V249.82H1631.17V248.62H1632.97V250.3H1634.77V251.21H1636.57V255.53H1638.37V255.01H1640.17V255.44H1641.97V255.87H1643.77V256.79H1645.57V256.8H1645.9V257.68Z" fill="#0b6763"/>
<path d="M1314.94 257.68V221.97H1316.74V216.56H1317.64V207.18H1319.45V247.22H1320.35V257.68M1460.13 257.68V230.99H1463.74V245.41H1465.18V257.68M1481.77 257.68V239.64H1484.48V257.68M1536.24 257.68V241.81H1539.49V257.68M1557.88 257.68V236.04H1560.77V257.68M1590.89 257.68V229.54H1593.23V257.68M1599.01 257.68V230.99H1601.71V257.68M1621.55 257.68V233.69H1623.9V257.68M1628.77 257.68V236.04H1631.47V257.68" fill="#0b6763"/>
<path d="M1639.23 49.18V64.15M1636.63 49.18H1641.83M1636.63 64.15H1641.83" fill="none" stroke="#1c1c1c" stroke-width="0.9"/>
<path d="M1639.23 122.41V129.98M1636.63 122.41H1641.83M1636.63 129.98H1641.83" fill="none" stroke="#1c1c1c" stroke-width="0.9"/>
<path d="M1639.23 185.9V192.21M1636.63 185.9H1641.83M1636.63 192.21H1641.83" fill="none" stroke="#1c1c1c" stroke-width="0.9"/>
<path d="M1639.23 210.24V256.24M1636.63 210.24H1641.83M1636.63 256.24H1641.83" fill="none" stroke="#1c1c1c" stroke-width="0.9"/>
<line x1="1301.77" y1="284.19" x2="1645.9" y2="284.19" stroke="#505050" stroke-width="1.25"/>
<line x1="1301.77" y1="288.7" x2="1645.9" y2="288.7" stroke="#505050" stroke-width="1.25"/>
<path d="M1314.88 279.39H1319.68L1317.7 282.29V290.4H1316.86V282.29Z" fill="#c1271c"/>
<path d="M1316.69 279.39H1321.49L1319.51 282.29V290.4H1318.67V282.29Z" fill="#c1271c"/>
<path d="M1318.49 279.39H1323.29L1321.31 282.29V290.4H1320.47V282.29Z" fill="#c1271c"/>
<path d="M1425.26 279.39H1430.06L1428.08 282.29V290.4H1427.24V282.29Z" fill="#c1271c"/>
<path d="M1436.63 279.39H1441.43L1439.45 282.29V290.4H1438.61V282.29Z" fill="#c1271c"/>
<path d="M1450.87 279.39H1455.67L1453.69 282.29V290.4H1452.85V282.29Z" fill="#c1271c"/>
<path d="M1455.92 279.39H1460.72L1458.74 282.29V290.4H1457.9V282.29Z" fill="#c1271c"/>
<path d="M1457.73 279.39H1462.53L1460.55 282.29V290.4H1459.71V282.29Z" fill="#c1271c"/>
<path d="M1466.21 279.39H1471.01L1469.03 282.29V290.4H1468.19V282.29Z" fill="#c1271c"/>
<path d="M1480.27 279.39H1485.07L1483.09 282.29V290.4H1482.25V282.29Z" fill="#c1271c"/>
<path d="M1514.72 279.39H1519.52L1517.54 282.29V290.4H1516.7V282.29Z" fill="#c1271c"/>
<path d="M1569.91 279.39H1574.71L1572.73 282.29V290.4H1571.89V282.29Z" fill="#c1271c"/>
<path d="M1588.67 279.39H1593.47L1591.49 282.29V290.4H1590.65V282.29Z" fill="#c1271c"/>
<path d="M1605.62 279.39H1610.42L1608.44 282.29V290.4H1607.6V282.29Z" fill="#c1271c"/>
<rect x="1452.37" y="297.18" width="193.53" height="11.36" fill="#333333"/>
<rect x="1457.06" y="294.11" width="2.16" height="16.59" fill="#333333"/>
<rect x="1465.54" y="294.11" width="1.8" height="16.59" fill="#333333"/>
<rect x="1483.58" y="294.11" width="9.02" height="16.59" fill="#333333"/>
<rect x="1497.64" y="294.11" width="7.58" height="16.59" fill="#333333"/>
<rect x="1512.43" y="294.11" width="4.51" height="16.59" fill="#333333"/>
<rect x="1522.35" y="294.11" width="5.41" height="16.59" fill="#333333"/>
<rect x="1535.88" y="294.11" width="3.97" height="16.59" fill="#333333"/>
<rect x="1547.24" y="294.11" width="5.77" height="16.59" fill="#333333"/>
<rect x="1559.69" y="294.11" width="2.89" height="16.59" fill="#333333"/>
<rect x="1566.54" y="294.11" width="5.41" height="16.59" fill="#333333"/>
<rect x="1576.46" y="294.11" width="6.31" height="16.59" fill="#333333"/>
<rect x="1588.18" y="294.11" width="5.41" height="16.59" fill="#333333"/>
<rect x="1599.01" y="294.11" width="8.12" height="16.59" fill="#333333"/>
<rect x="1614.88" y="294.11" width="16.59" height="16.59" fill="#333333"/>
<rect x="1637.42" y="294.11" width="2.16" height="16.59" fill="#333333"/>
<path d="M1472.06 300.46L1475.26 302.86L1472.06 305.26" fill="none" stroke="#f4f4f4" stroke-width="0.95"/>
<path d="M1507.77 300.46L1510.97 302.86L1507.77 305.26" fill="none" stroke="#f4f4f4" stroke-width="0.95"/>
<path d="M1543.66 300.46L1546.86 302.86L1543.66 305.26" fill="none" stroke="#f4f4f4" stroke-width="0.95"/>
<rect x="1660.35" y="7.8" width="285.33" height="307.8" fill="#fafafa"/>
<path d="M1660.35 69.02V59.1H1663.05V59.01H1665.75V60.16H1668.45V59.92H1671.15V61.03H1673.85V60.06H1676.55V61.06H1679.25V61.74H1681.95V62.79H1684.65V62.97H1687.35V61.33H1690.05V60.55H1692.75V60.75H1695.45V60.33H1698.15V60.31H1700.85V60.43H1703.55V61.4H1706.25V61.75H1708.95V61.68H1711.65V61.03H1714.35V61.66H1717.05V61.17H1719.75V60.8H1722.45V60.86H1725.15V60.66H1727.85V60.16H1730.55V62.3H1733.25V64.01H1735.95V64.22H1738.65V64.58H1741.35V64.3H1744.05V63.7H1746.75V63.35H1749.45V62.67H1752.15V61.36H1754.85V61H1757.55V59.27H1760.25V59.41H1762.95V60.59H1765.65V62.5H1768.35V62.34H1771.05V62.09H1773.75V61.39H1776.45V61.22H1779.15V61.07H1781.85V59.74H1784.55V59.28H1787.25V59.48H1789.95V60.17H1792.65V60.81H1795.35V60.72H1798.05V60.73H1800.75V60.99H1803.45V60.66H1806.15V61.16H1808.85V61H1811.55V62.44H1814.25V64.07H1816.95V65.47H1819.65V65.59H1822.35V64.43H1825.05V62.01H1827.75V61.64H1830.45V60.8H1833.15V60.64H1835.85V59.31H1838.55V57.83H1841.25V57.92H1843.95V58.79H1846.65V60.47H1849.35V62.66H1852.05V61.6H1854.75V60.27H1857.45V58.31H1860.15V55.99H1862.85V59.95H1865.55V61.3H1868.25V60.96H1870.95V60.96H1873.65V60.22H1876.35V61.3H1879.05V61.58H1881.75V62.81H1884.45V62.58H1887.15V61.29H1889.85V60.44H1892.55V60.55H1895.25V60.17H1897.95V59.31H1900.65V57.52H1903.35V56H1906.05V57.24H1908.75V58.91H1911.45V60.43H1914.15V61.04H1916.85V61.88H1919.55V62.57H1922.25V62.82H1924.95V62.87H1927.65V62.84H1930.35V63.83H1933.05V64.28H1935.75V64.55H1938.45V64.54H1941.15V63.67H1943.85V64.95H1945.68V69.02Z" fill="#999999"/>
<line x1="1660.35" y1="132.05" x2="1945.68" y2="132.05" stroke="#2b5590" stroke-width="1.15"/>
<path d="M1676.04 132.15V130.89H1678.38V104.37H1680.73V103.29H1683.25V117.36H1685.06V129.98H1687.76V132.15M1718.97 132.15V130.34H1721.67V129.44H1727.08V130.34H1729.79V132.15M1810.95 132.15V130.53H1819.07V132.15M1840.71 132.15V129.44H1846.12V130.34H1851.53V132.15M1899.33 132.15V130.34H1902.93V129.44H1910.15V130.34H1913.76V132.15M1917 132.15V130.53H1925.48V132.15" fill="#04306a"/>
<line x1="1660.35" y1="195.72" x2="1945.68" y2="195.72" stroke="#3a7fe0" stroke-width="1.15"/>
<path d="M1668.83 195.82V194.19H1678.38V164.25H1680.73V162.81H1683.25V178.68H1685.06V193.47H1687.76V195.82M1702.37 195.82V194.19H1710.31V195.82M1721.13 195.82V194.19H1723.84V192.75H1727.08V194.19H1729.79V195.82M1764.42 195.82V194.19H1774.52V195.82M1810.95 195.82V194.19H1819.07V195.82M1834.76 195.82V194.19H1840.71V192.75H1843.78V193.83H1848.83V195.82M1865.06 195.82V194.19H1870.47V195.82M1899.33 195.82V192.75H1909.79V195.82" fill="#0a62d6"/>
<line x1="1660.35" y1="257.94" x2="1945.68" y2="257.94" stroke="#2f7d78" stroke-width="1.15"/>
<path d="M1660.35 258.04V256.56H1662.15V256.48H1663.95V257.1H1665.75V256.32H1667.55V256.84H1669.35V255.88H1671.15V254.7H1672.95V253.93H1674.75V254.1H1676.55V253.17H1678.35V252.93H1680.15V252.69H1681.95V253.21H1683.75V252.21H1685.55V253.26H1687.35V251.73H1689.15V254.6H1690.95V252.17H1692.75V252.4H1694.55V253.85H1696.35V252.88H1698.15V252.63H1699.95V255.32H1701.75V254.91H1703.55V253.07H1705.35V256.47H1707.15V256.5H1708.95V256.32H1710.75V256.37H1712.55V256.8H1714.35V256.46H1716.15V256.91H1717.95V256.55H1719.75V256.75H1721.55V255.93H1723.35V255.22H1725.15V255.54H1726.95V254.1H1728.75V253.74H1730.55V253.38H1732.35V255.38H1734.15V253.47H1735.95V255.07H1737.75V254.78H1739.55V253.19H1741.35V253.89H1743.15V255.47H1744.95V255.21H1746.75V255.32H1748.55V252.63H1750.35V252.63H1752.15V254.33H1753.95V254.58H1755.75V255.31H1757.55V255.8H1759.35V254.73H1761.15V254.06H1762.95V253.44H1764.75V252.71H1766.55V255.27H1768.35V252.63H1770.15V254.88H1771.95V252.65H1773.75V254.47H1775.55V253.75H1777.35V255.34H1779.15V255.21H1780.95V254.8H1782.75V253.51H1784.55V252.34H1786.35V253.27H1788.15V250.63H1789.95V252.42H1791.75V252.69H1793.55V253.11H1795.35V254.43H1797.15V254.09H1798.95V255.04H1800.75V254.59H1802.55V252.98H1804.35V252.94H1806.15V252.82H1807.95V253.82H1809.75V253.27H1811.55V253.67H1813.35V253.53H1815.15V255.24H1816.95V253.53H1818.75V253.91H1820.55V254.74H1822.35V254.8H1824.15V255.25H1825.95V254.92H1827.75V254.85H1829.55V254.36H1831.35V252.3H1833.15V254.59H1834.95V254.17H1836.75V255.39H1838.55V255.77H1840.35V253.59H1842.15V253.53H1843.95V255.27H1845.75V255.62H1847.55V254.2H1849.35V253.53H1851.15V253.53H1852.95V252.65H1854.75V254.18H1856.55V250.4H1858.35V251.31H1860.15V253.08H1861.95V254.69H1863.75V255.36H1865.55V255.52H1867.35V255.37H1869.15V254.72H1870.95V253.84H1872.75V255.14H1874.55V252.76H1876.35V252.46H1878.15V253.42H1879.95V254.07H1881.75V251.78H1883.55V252.38H1885.35V252.78H1887.15V253.38H1888.95V253.4H1890.75V253.58H1892.55V252.05H1894.35V251.51H1896.15V252.96H1897.95V251.49H1899.75V255.09H1901.55V253.29H1903.35V253.74H1905.15V252.91H1906.95V252.55H1908.75V252.19H1910.55V254.65H1912.35V252.16H1914.15V252.76H1915.95V253.63H1917.75V255.59H1919.55V255.24H1921.35V253.45H1923.15V253.52H1924.95V253.72H1926.75V251.86H1928.55V251.41H1930.35V251.03H1932.15V251.1H1933.95V252.07H1935.75V254H1937.55V253.77H1939.35V251.34H1941.15V250.83H1942.95V252.34H1944.75V254.89H1945.68V258.04Z" fill="#0b6763"/>
<path d="M1677.84 258.04V243.61H1679.29V227.74H1681.45V236.4H1683.25V240.91H1684.7V237.84H1686.5V250.83H1687.76V258.04" fill="#0b6763"/>
<path d="M1935.94 49.18V64.15M1933.34 49.18H1938.54M1933.34 64.15H1938.54" fill="none" stroke="#1c1c1c" stroke-width="0.9"/>
<path d="M1935.94 122.41V128.72M1933.34 122.41H1938.54M1933.34 128.72H1938.54" fill="none" stroke="#1c1c1c" stroke-width="0.9"/>
<path d="M1935.94 185.9V192.21M1933.34 185.9H1938.54M1933.34 192.21H1938.54" fill="none" stroke="#1c1c1c" stroke-width="0.9"/>
<path d="M1935.94 240.91V255.33M1933.34 240.91H1938.54M1933.34 255.33H1938.54" fill="none" stroke="#1c1c1c" stroke-width="0.9"/>
<line x1="1660.35" y1="284.19" x2="1945.68" y2="284.19" stroke="#505050" stroke-width="1.25"/>
<line x1="1660.35" y1="288.7" x2="1945.68" y2="288.7" stroke="#505050" stroke-width="1.25"/>
<path d="M1674.45 279.39H1679.25L1677.27 282.29V290.4H1676.43V282.29Z" fill="#c1271c"/>
<path d="M1675.25 279.39H1680.05L1678.07 282.29V290.4H1677.23V282.29Z" fill="#c1271c"/>
<path d="M1676.05 279.39H1680.85L1678.87 282.29V290.4H1678.03V282.29Z" fill="#c1271c"/>
<path d="M1676.85 279.39H1681.65L1679.67 282.29V290.4H1678.83V282.29Z" fill="#c1271c"/>
<path d="M1677.65 279.39H1682.45L1680.47 282.29V290.4H1679.63V282.29Z" fill="#c1271c"/>
<path d="M1678.45 279.39H1683.25L1681.27 282.29V290.4H1680.43V282.29Z" fill="#c1271c"/>
<path d="M1679.25 279.39H1684.05L1682.07 282.29V290.4H1681.23V282.29Z" fill="#c1271c"/>
<path d="M1680.05 279.39H1684.85L1682.87 282.29V290.4H1682.03V282.29Z" fill="#c1271c"/>
<path d="M1700.33 279.39H1705.13L1703.15 282.29V290.4H1702.31V282.29Z" fill="#c1271c"/>
<path d="M1819.73 279.39H1824.53L1822.55 282.29V290.4H1821.71V282.29Z" fill="#c1271c"/>
<path d="M1933 279.39H1937.8L1935.82 282.29V290.4H1934.98V282.29Z" fill="#c1271c"/>
<rect x="1685.6" y="297.18" width="151.14" height="11.36" fill="#333333"/>
<path d="M1718.81 300.46L1722.01 302.86L1718.81 305.26" fill="none" stroke="#f4f4f4" stroke-width="0.95"/>
<path d="M1754.7 300.46L1757.9 302.86L1754.7 305.26" fill="none" stroke="#f4f4f4" stroke-width="0.95"/>
<path d="M1790.41 300.46L1793.61 302.86L1790.41 305.26" fill="none" stroke="#f4f4f4" stroke-width="0.95"/>
<path d="M1826.48 300.46L1829.68 302.86L1826.48 305.26" fill="none" stroke="#f4f4f4" stroke-width="0.95"/>
<rect x="1873.17" y="297.18" width="60.78" height="11.36" fill="#333333"/>
<rect x="272.51" y="431" width="271.08" height="318" fill="#fafafa"/>
<path d="M272.51 492.89V474.56H275.21V475.17H277.91V475.2H280.61V475.12H283.31V475.12H286.01V476.91H288.71V478.14H291.41V478.74H294.11V479.27H296.81V479.54H299.51V479.84H302.21V480.68H304.91V481.36H307.61V480.94H310.31V481.32H313.01V480.42H315.71V479.55H318.41V478.34H321.11V478.33H323.81V477.4H326.51V476.86H329.21V476.23H331.91V475.65H334.61V475.95H337.31V477.49H340.01V478H342.71V478.68H345.41V477.93H348.11V477.46H350.81V477.11H353.51V475.41H356.21V475.64H358.91V475.17H361.61V475.27H364.31V475.19H367.01V476.68H369.71V477.73H372.41V478.93H375.11V480.92H377.81V479.48H380.51V479.21H383.21V477.89H385.91V477.97H388.61V477.22H391.31V477.11H394.01V477.39H396.71V477.39H399.41V476.64H402.11V475.23H404.81V475.98H407.51V476.74H410.21V476.73H412.91V478.4H415.61V479.31H418.31V479.39H421.01V479.75H423.71V480.24H426.41V480.65H429.11V481.73H431.81V481.76H434.51V482.3H437.21V482.26H439.91V481.18H442.61V480.78H445.31V479.6H448.01V478.92H450.71V478.31H453.41V477.83H456.11V475.69H458.81V474.05H461.51V471.99H464.21V470.52H466.91V468.58H469.61V468.3H472.31V468.24H475.01V470.44H477.71V471.47H480.41V472.8H483.11V473.59H485.81V475.12H488.51V476.96H491.21V478.59H493.91V476.93H496.61V475.42H499.31V475.64H502.01V475.54H504.71V475.67H507.41V476.46H510.11V478.34H512.81V479.38H515.51V479.06H518.21V476.85H520.91V476.09H523.61V475.07H526.31V474.73H529.01V474.6H531.71V475.23H534.41V474.52H537.11V474.42H539.81V475.81H542.51V476.25H543.59V492.89Z" fill="#999999"/>
<line x1="272.51" y1="557.18" x2="543.59" y2="557.18" stroke="#2b5590" stroke-width="1.15"/>
<path d="M272.51 557.28V556.38H279.72V552.77H286.04V548.26H295.05V549.52H300.46V538.34H306.78V540.51H309.84V541.95H313.99V557.28M338.88 557.28V554.21H342.31V550.97H349.52V549.52H355.47V552.77H359.08V557.28M378.92 557.28V552.77H382.53V548.26H392.45V549.52H396.96V552.77H410.48V553.67H415.9V556.02H417.34V553.67H427.62V549.52H431.77V548.26H440.79V554.21H442.59V550.97H448.36V552.77H449.26V543.75H453.41V538.34H458.82V542.85H461.35V540.14H467.3V545.92H471.45V552.77H481.73V556.38H484.07V552.77H490.75V549.52H500.67V550.97H504.27V552.77H507.88V556.02H512.75V548.26H516.9V540.14H529.52V549.52H534.57V557.28" fill="#04306a"/>
<line x1="272.51" y1="621.57" x2="543.59" y2="621.57" stroke="#3a7fe0" stroke-width="1.15"/>
<path d="M272.51 621.67V620.95H282.43V616.8H291.45V616.44H299.56V618.06H301.37V617.34H309.84V618.6H313.99V621.67M350.06 621.67V620.4H357.28V619.14H366.3V620.95H375.31V620.4H382.53V616.44H392.45V617.34H396.96V620.95H402.37V620.4H409.22V617.7H414.99V619.14H416.26V616.44H423.47V614.63H427.62V606.52H431.23V604.17H440.79V613.73H448V617.7H449.8V612.83H458.82V616.44H461.35V612.83H467.3V615.9H470.91V616.98H478.12V620.95H487.14V620.4H491.65V619.14H498.86V614.09H504.27V615.54H509.68V616.44H516.9V612.83H529.52V616.98H534.57V620.95H543.59V621.67" fill="#0a62d6"/>
<line x1="272.51" y1="685.23" x2="543.59" y2="685.23" stroke="#2f7d78" stroke-width="1.15"/>
<path d="M272.51 685.33V684.43H274.31V684.19H276.11V684.02H277.91V683.86H279.71V683.7H281.51V683.53H283.31V683.98H285.11V684.43H286.91V681.63H288.71V680.44H290.51V678.51H292.31V682.19H294.11V682.84H295.91V675.99H297.71V675.12H299.51V676.8H301.31V675.39H303.11V674.96H304.91V672.76H306.71V676.45H308.51V677.62H310.31V672.04H312.11V673.53H313.91V671.58H315.71V674.08H317.51V676.21H319.31V680.63H321.11V684.29H322.91V680.18H324.71V676.99H326.51V681.75H328.31V683.64H330.11V681.84H331.91V680.04H333.71V680.34H335.51V678.62H337.31V680.44H339.11V680.42H340.91V677.33H342.71V677.45H344.51V677.57H346.31V684.84H348.11V685.13H349.91V684.93H351.71V684.75H353.51V684.45H355.31V680.94H357.11V684.83H358.91V685.08H360.71V684.77H362.51V680.78H364.31V676.73H366.11V672.68H367.91V678.01H369.71V679.43H371.51V678.14H373.31V671.26H375.11V665.73H376.91V668.42H378.71V674.74H380.51V680.25H382.31V680.33H384.11V678.3H385.91V675.42H387.71V679.95H389.51V681.02H391.31V684.27H393.11V684H394.91V681.97H396.71V681.42H398.51V677H400.31V679.3H402.11V679.51H403.91V677.87H405.71V676.41H407.51V676.66H409.31V676.92H411.11V677.92H412.91V682.38H414.71V683.41H416.51V680.41H418.31V681.84H420.11V683.75H421.91V682.87H423.71V681.53H425.51V682.47H427.31V684.9H429.11V684.49H430.91V683.62H432.71V681.4H434.51V677.49H436.31V673.87H438.11V672.49H439.91V674.65H441.71V676.81H443.51V677.51H445.31V677.87H447.11V681.66H448.91V679.88H450.71V681.76H452.51V683.81H454.31V683.19H456.11V680.42H457.91V684.21H459.71V684.93H461.51V684.26H463.31V684.23H465.11V684.24H466.91V685.22H468.71V685.33H470.51V685.33H472.31V685.33H474.11V685.33H475.91V685.33H477.71V685.33H479.51V685.33H481.31V685.33H483.11V685.33H484.91V678.45H486.71V681.38H488.51V679.68H490.31V683.97H492.11V685.33H493.91V685.33H495.71V685.33H497.51V685.33H499.31V685.33H501.11V685.33H502.91V685.33H504.71V685.33H506.51V685.33H508.31V685.33H510.11V684.87H511.91V683.81H513.71V685.01H515.51V684.1H517.31V682.38H519.11V685.33H520.91V685.33H522.71V685.33H524.51V685.33H526.31V685.33H528.11V685.33H529.91V685.33H531.71V685.33H533.51V685.33H535.31V683.87H537.11V681.8H538.91V681.86H540.71V683.04H542.51V684.02H543.59V685.33Z" fill="#0b6763"/>
<path d="M407.24 685.33V661.89H408.68V657.74H410.48V671.81H411.93V685.33M432.13 685.33V665.49H433.93V664.23H436.1V670H437.9V685.33M448.36 685.33V633.57H452.87V685.33" fill="#0b6763"/>
<path d="M279.18 475.21V490.18M276.58 475.21H281.78M276.58 490.18H281.78" fill="none" stroke="#1c1c1c" stroke-width="0.9"/>
<path d="M279.18 540.14V554.21M276.58 540.14H281.78M276.58 554.21H281.78" fill="none" stroke="#1c1c1c" stroke-width="0.9"/>
<path d="M279.18 610.85V619.14M276.58 610.85H281.78M276.58 619.14H281.78" fill="none" stroke="#1c1c1c" stroke-width="0.9"/>
<path d="M279.18 637.54V683.17M276.58 637.54H281.78M276.58 683.17H281.78" fill="none" stroke="#1c1c1c" stroke-width="0.9"/>
<line x1="272.51" y1="712.03" x2="543.59" y2="712.03" stroke="#505050" stroke-width="1.25"/>
<line x1="272.51" y1="716.9" x2="543.59" y2="716.9" stroke="#505050" stroke-width="1.25"/>
<path d="M302.32 707.23H307.12L305.14 710.13V718.6H304.3V710.13Z" fill="#c1271c"/>
<path d="M303.92 707.23H308.72L306.74 710.13V718.6H305.9V710.13Z" fill="#c1271c"/>
<path d="M350.73 707.23H355.53L353.55 710.13V718.6H352.71V710.13Z" fill="#c1271c"/>
<path d="M403.24 707.23H408.04L406.06 710.13V718.6H405.22V710.13Z" fill="#c1271c"/>
<path d="M404.64 707.23H409.44L407.46 710.13V718.6H406.62V710.13Z" fill="#c1271c"/>
<path d="M429.37 707.23H434.17L432.19 710.13V718.6H431.35V710.13Z" fill="#c1271c"/>
<path d="M434.6 707.23H439.4L437.42 710.13V718.6H436.58V710.13Z" fill="#c1271c"/>
<path d="M445.47 707.23H450.27L448.29 710.13V718.6H447.45V710.13Z" fill="#c1271c"/>
<path d="M447.07 707.23H451.87L449.89 710.13V718.6H449.05V710.13Z" fill="#c1271c"/>
<path d="M448.67 707.23H453.47L451.49 710.13V718.6H450.65V710.13Z" fill="#c1271c"/>
<path d="M450.27 707.23H455.07L453.09 710.13V718.6H452.25V710.13Z" fill="#c1271c"/>
<path d="M451.87 707.23H456.67L454.69 710.13V718.6H453.85V710.13Z" fill="#c1271c"/>
<path d="M462.16 707.23H466.96L464.98 710.13V718.6H464.14V710.13Z" fill="#c1271c"/>
<path d="M463.46 707.23H468.26L466.28 710.13V718.6H465.44V710.13Z" fill="#c1271c"/>
<path d="M464.76 707.23H469.56L467.58 710.13V718.6H466.74V710.13Z" fill="#c1271c"/>
<path d="M471.21 707.23H476.01L474.03 710.13V718.6H473.19V710.13Z" fill="#c1271c"/>
<path d="M495.3 707.23H500.1L498.12 710.13V718.6H497.28V710.13Z" fill="#c1271c"/>
<path d="M496.9 707.23H501.7L499.72 710.13V718.6H498.88V710.13Z" fill="#c1271c"/>
<path d="M535.24 707.23H540.04L538.06 710.13V718.6H537.22V710.13Z" fill="#c1271c"/>
<rect x="281.17" y="725.01" width="180.18" height="11.72" fill="#333333"/>
<rect x="292.35" y="722.67" width="31.56" height="16.41" fill="#333333"/>
<rect x="365.03" y="722.67" width="22" height="16.41" fill="#333333"/>
<rect x="409.22" y="722.67" width="14.25" height="16.41" fill="#333333"/>
<rect x="431.23" y="722.67" width="16.77" height="16.41" fill="#333333"/>
<path d="M313.79 728.48L310.59 730.88L313.79 733.28" fill="none" stroke="#f4f4f4" stroke-width="0.95"/>
<path d="M350.76 728.48L347.56 730.88L350.76 733.28" fill="none" stroke="#f4f4f4" stroke-width="0.95"/>
<path d="M386.83 728.48L383.63 730.88L386.83 733.28" fill="none" stroke="#f4f4f4" stroke-width="0.95"/>
<path d="M423.27 728.48L420.07 730.88L423.27 733.28" fill="none" stroke="#f4f4f4" stroke-width="0.95"/>
<rect x="448.4" y="728.68" width="1" height="1.1" fill="#ddd"/><rect x="448.4" y="731.98" width="1" height="1.1" fill="#ddd"/>
<rect x="601.02" y="431" width="213.19" height="318" fill="#fafafa"/>
<path d="M601.02 494.15V474.89H603.72V474.32H606.42V474.45H609.12V475.67H611.82V477.4H614.52V480.03H617.22V481.48H619.92V482.09H622.62V483.55H625.32V480.86H628.02V480.18H630.72V479.54H633.42V479.82H636.12V480.16H638.82V480.71H641.52V482.63H644.22V484.1H646.92V482.59H649.62V481.94H652.32V480.3H655.02V479.62H657.72V479.09H660.42V479.36H663.12V478.71H665.82V478.69H668.52V478.3H671.22V479.36H673.92V479.84H676.62V480.32H679.32V479.91H682.02V479.23H684.72V479.71H687.42V479.74H690.12V480.88H692.82V481.32H695.52V480.75H698.22V479.97H700.92V480.28H703.62V479.72H706.32V478.95H709.02V479.79H711.72V481.24H714.42V481.72H717.12V482.45H719.82V481.49H722.52V480.96H725.22V480.49H727.92V480.63H730.62V480.78H733.32V480.1H736.02V480.64H738.72V481.32H741.42V481.05H744.12V480.64H746.82V479.89H749.52V479.13H752.22V479.7H754.92V479.88H757.62V479.76H760.32V481.66H763.02V482.28H765.72V482.24H768.42V481.54H771.12V481.44H773.82V482H776.52V482.1H779.22V482.83H781.92V483.87H784.62V485.11H787.32V483.24H790.02V482.47H792.72V481.64H795.42V481.21H798.12V480.87H800.82V482.05H803.52V483.25H806.22V484.03H808.92V482.55H811.62V480.7H814.2V494.15Z" fill="#999999"/>
<line x1="601.02" y1="558.08" x2="814.2" y2="558.08" stroke="#2b5590" stroke-width="1.15"/>
<path d="M601.02 558.18V552.41H607.33V550.61H611.84V553.67H614.55V551.87H616.89V533.83H625.37V535.09H628.97V549.52H631.32V554.21H638.53V557.82H640.34V554.21H649.72V551.87H653.32V549.52H661.44V551.87H667.75V554.21H674.06V558.18M692.1 558.18V554.21H698.41V536.18H706.53V552.77H708.33V524.27H711.94V514.35H716.45V515.8H719.15V536.18H722.22V546.46H724.2V532.57H732.32V536.18H734.48V557.28H737.73V547.36H739.9V528.96H745.31V531.13H748.01V535.09H752.16V557.28H759.37V547H763.34V543.39H771.46V557.28H772.9V548.26H776.33V544.65H778.67V531.13H783.54V537.44H787.15V544.65H794.36V556.02H797.61V554.21H802.12V549.52H807.53V551.87H814.2V558.18" fill="#04306a"/>
<line x1="601.02" y1="622.65" x2="814.2" y2="622.65" stroke="#3a7fe0" stroke-width="1.15"/>
<path d="M601.02 622.75V620.4H607.33V620.4H614.55V618.6H616.89V604.53H621.76V606.88H624.1V605.43H628.97V617.34H631.32V618.6H638.53V621.67H640.34V620.4H649.72V617.7H653.32V611.39H658.73V612.83H661.44V618.6H664.14V620.4H668.11V622.75M685.43 622.75V619.14H692.64V620.4H696.61V621.67H698.77V615.54H702.38V611.39H706.53V621.31H708.33V587.04H711.94V580.18H716.45V587.04H719.15V599.3H722.22V613.73H724.2V606.88H728.17V603.27H732.32V607.78H734.48V621.67H737.73V607.78H739.9V599.3H745.31V603.27H748.01V605.98H752.16V621.67H754.32V616.26H763.34V612.83H771.46V616.26H776.33V611.39H779.58V609.22H787.15V619.14H792.56V612.83H798.51V610.48H803.38V612.83H807.53V614.45H814.2V622.75" fill="#0a62d6"/>
<line x1="601.02" y1="686.5" x2="814.2" y2="686.5" stroke="#2f7d78" stroke-width="1.15"/>
<path d="M601.02 686.6V681.21H602.82V680.71H604.62V675.41H606.42V682.46H608.22V685.43H610.02V685.64H611.82V685.34H613.62V677.51H615.42V673.13H617.22V667.63H619.02V670.41H620.82V670.46H622.62V678.64H624.42V686.47H626.22V686.53H628.02V686.47H629.82V686.46H631.62V686.34H633.42V686.27H635.22V685.65H637.02V685.86H638.82V686.57H640.62V686.53H642.42V686.53H644.22V686.45H646.02V686.4H647.82V686.46H649.62V686.32H651.42V686.29H653.22V686.41H655.02V682.85H656.82V684.77H658.62V683.5H660.42V686.46H662.22V685.92H664.02V685.63H665.82V684.37H667.62V683.69H669.42V683.02H671.22V684.3H673.02V683.33H674.82V682.63H676.62V685.4H678.42V678.75H680.22V682.09H682.02V685.16H683.82V683.25H685.62V681.34H687.42V681.46H689.22V677.58H691.02V678.4H692.82V681.43H694.62V685.09H696.42V685.47H698.22V682.86H700.02V680.8H701.82V680.52H703.62V682.19H705.42V683.95H707.22V683.14H709.02V683.6H710.82V682.99H712.62V684.24H714.42V682.63H716.22V684.4H718.02V686.33H719.82V686.01H721.62V684.89H723.42V684H725.22V682.8H727.02V680.03H728.82V677.15H730.62V678.38H732.42V684.43H734.22V684.48H736.02V684.34H737.82V679.64H739.62V677.11H741.42V684.09H743.22V680.78H745.02V676.45H746.82V674.59H748.62V679.28H750.42V685.33H752.22V683.63H754.02V683.32H755.82V685.1H757.62V684.82H759.42V683.36H761.22V683.48H763.02V686.12H764.82V686.25H766.62V686.1H768.42V685.41H770.22V683.58H772.02V681.42H773.82V679.65H775.62V678.75H777.42V677.85H779.22V679.58H781.02V674.88H782.82V677.76H784.62V673.89H786.42V677.61H788.22V667.43H790.02V667.89H791.82V661.89H793.62V663.55H795.42V672.23H797.22V669.36H799.02V665.63H800.82V659.66H802.62V657.41H804.42V659.83H806.22V667.29H808.02V678.02H809.82V674.37H811.62V677.7H813.42V681.45H814.2V686.6Z" fill="#0b6763"/>
<path d="M809.7 475.21V490.18M807.1 475.21H812.3M807.1 490.18H812.3" fill="none" stroke="#1c1c1c" stroke-width="0.9"/>
<path d="M809.7 547.36V555.47M807.1 547.36H812.3M807.1 555.47H812.3" fill="none" stroke="#1c1c1c" stroke-width="0.9"/>
<path d="M809.7 613.19V619.5M807.1 613.19H812.3M807.1 619.5H812.3" fill="none" stroke="#1c1c1c" stroke-width="0.9"/>
<path d="M809.7 627.08V683.53M807.1 627.08H812.3M807.1 683.53H812.3" fill="none" stroke="#1c1c1c" stroke-width="0.9"/>
<line x1="601.02" y1="712.93" x2="814.2" y2="712.93" stroke="#505050" stroke-width="1.25"/>
<line x1="601.02" y1="717.98" x2="814.2" y2="717.98" stroke="#505050" stroke-width="1.25"/>
<rect x="613.1" y="726.28" width="201.1" height="11.72" fill="#333333"/>
<rect x="620.5" y="723.75" width="7.03" height="16.23" fill="#333333"/>
<rect x="653.32" y="723.75" width="5.77" height="16.23" fill="#333333"/>
<rect x="663.6" y="723.75" width="7.39" height="16.23" fill="#333333"/>
<rect x="677.67" y="723.75" width="2.34" height="16.23" fill="#333333"/>
<rect x="687.23" y="723.75" width="7.21" height="16.23" fill="#333333"/>
<rect x="700.22" y="723.75" width="5.05" height="16.23" fill="#333333"/>
<rect x="710.14" y="723.75" width="7.21" height="16.23" fill="#333333"/>
<rect x="725.47" y="723.75" width="6.85" height="16.23" fill="#333333"/>
<rect x="739.9" y="723.75" width="8.12" height="16.23" fill="#333333"/>
<rect x="754.32" y="723.75" width="3.25" height="16.23" fill="#333333"/>
<rect x="762.98" y="723.75" width="4.87" height="16.23" fill="#333333"/>
<rect x="776.87" y="723.75" width="33.37" height="16.23" fill="#333333"/>
<path d="M636.03 729.74L639.23 732.14L636.03 734.54" fill="none" stroke="#f4f4f4" stroke-width="0.95"/>
<path d="M678.78 729.74L681.98 732.14L678.78 734.54" fill="none" stroke="#f4f4f4" stroke-width="0.95"/>
<path d="M715.21 729.74L718.41 732.14L715.21 734.54" fill="none" stroke="#f4f4f4" stroke-width="0.95"/>
<path d="M752.18 729.74L755.38 732.14L752.18 734.54" fill="none" stroke="#f4f4f4" stroke-width="0.95"/>
<path d="M806.97 729.74L803.77 732.14L806.97 734.54" fill="none" stroke="#f4f4f4" stroke-width="0.95"/>
<rect x="870.67" y="431" width="293.63" height="318" fill="#fafafa"/>
<path d="M870.67 494.15V474.9H873.37V473.45H876.07V472.36H878.77V471.55H881.47V472.06H884.17V472.23H886.87V472.87H889.57V473.01H892.27V474.99H894.97V477.22H897.67V477.1H900.37V477.33H903.07V476.59H905.77V475.5H908.47V474.98H911.17V474.61H913.87V475.34H916.57V477.05H919.27V478.75H921.97V478.37H924.67V477.57H927.37V476.87H930.07V477.16H932.77V477.34H935.47V478.26H938.17V479.27H940.87V481.19H943.57V482.01H946.27V483.43H948.97V483.72H951.67V482.84H954.37V482.07H957.07V481.49H959.77V480.72H962.47V479.86H965.17V479.92H967.87V480.32H970.57V479.29H973.27V478.12H975.97V477.86H978.67V478.55H981.37V478.13H984.07V479.82H986.77V481.79H989.47V483.68H992.17V485.04H994.87V483.4H997.57V480.93H1000.27V477.75H1002.97V477.79H1005.67V477.71H1008.37V477.01H1011.07V476.92H1013.77V479.39H1016.47V481.03H1019.17V479.53H1021.87V478.85H1024.57V477.43H1027.27V476.57H1029.97V476.65H1032.67V477.64H1035.37V478.68H1038.07V479.03H1040.77V480.06H1043.47V479.92H1046.17V481.36H1048.87V479.79H1051.57V479.25H1054.27V478.71H1056.97V479.49H1059.67V479.54H1062.37V480.91H1065.07V480.75H1067.77V481.16H1070.47V483.67H1073.17V485.07H1075.87V483.68H1078.57V482.13H1081.27V482.1H1083.97V480.97H1086.67V480.04H1089.37V477.95H1092.07V476.62H1094.77V476.35H1097.47V477.09H1100.17V478.17H1102.87V479.47H1105.57V479.56H1108.27V480.18H1110.97V479.23H1113.67V478.05H1116.37V476.77H1119.07V476.57H1121.77V477.64H1124.47V480.85H1127.17V483.23H1129.87V482.75H1132.57V482.91H1135.27V483.16H1137.97V483.78H1140.67V484.12H1143.37V484.48H1146.07V484.94H1148.77V481.03H1151.47V477.13H1154.17V473.13H1156.87V470.94H1159.57V469.26H1162.27V469.17H1164.3V494.15Z" fill="#999999"/>
<line x1="870.67" y1="558.08" x2="1164.3" y2="558.08" stroke="#2b5590" stroke-width="1.15"/>
<path d="M876.63 558.18V551.87H882.04V554.21H887.45V549.52H891.05V547H897.37V548.26H900.97V551.87H903.68V554.57H906.38V558.18M908.19 558.18V556.38H911.8V554.21H915.4V556.38H919.01V558.18M937.95 558.18V556.74H942.46V554.21H948.41V557.28H951.47V553.13H955.98V550.06H958.69V543.39H965.36V550.61H970.41V556.38H977.63V558.18M992.06 558.18V556.38H996.57V551.87H999.27V547H1005.58V551.87H1010.09V557.28H1012.8V558.18M1020.91 558.18V551.87H1024.52V548.8H1029.93V557.28H1037.51V553.13H1041.66V554.21H1046.16V558.18M1053.74 558.18V554.21H1062.04V556.38H1065.1V558.18M1067.81 558.18V554.21H1077.73V552.77H1081.33V551.87H1085.84V554.57H1088.55V558.18M1093.96 558.18V555.47H1102.08V556.38H1104.78V558.18M1115.96 558.18V548.26H1126.79V558.18M1156.18 558.18V556.38H1160.69V555.47H1164.3V558.18" fill="#04306a"/>
<line x1="870.67" y1="622.65" x2="1164.3" y2="622.65" stroke="#3a7fe0" stroke-width="1.15"/>
<path d="M880.23 622.75V619.5H885.64V614.45H887.45V599.3H891.05V603.27H893.22V607.78H897.37V622.21H899.17V622.75M907.29 622.75V621.31H909.99V618.6H912.7V615.54H917.75V619.5H921.35V622.75M937.95 622.75V621.67H943.36V620.4H948.41V621.67H950.21V610.48H951.47V604.17H956.89V607.78H958.69V601.11H961.39V599.3H968.97V605.98H971.86V610.48H974.92V613.73H977.99V611.39H981.23V615.54H983.94V617.7H985.74V610.48H988.81V613.73H991.15V616.8H994.22V621.31H996.57V613.73H999.27V600.57H1003.24V605.98H1005.58V611.39H1008.29V617.7H1010.45V622.75M1020.91 622.75V611.39H1022.72V604.17H1024.88V599.66H1027.23V593.35H1030.29V606.88H1032.64V613.73H1035.34V616.8H1038.05V620.4H1039.85V616.26H1046.16V621.67H1061.49V622.75M1067.81 622.75V620.4H1069.61V617.7H1077.73V613.73H1079.53V609.22H1082.24V607.78H1086.2V613.73H1089.45V622.75M1115.96 622.75V619.14H1118.31V614.45H1123.72V615.9H1128.77V610.48H1132.74V612.83H1135.44V615.54H1139.05V621.31H1143.56V622.75" fill="#0a62d6"/>
<line x1="870.67" y1="686.5" x2="1164.3" y2="686.5" stroke="#2f7d78" stroke-width="1.15"/>
<path d="M870.67 686.6V685.62H872.47V685.9H874.27V685.76H876.07V685.44H877.87V685.33H879.67V685.46H881.47V682.8H883.27V685.2H885.07V685.04H886.87V683.76H888.67V685.52H890.47V685.8H892.27V686.35H894.07V686.27H895.87V686.22H897.67V685.85H899.47V685.74H901.27V685.64H903.07V685.81H904.87V685.69H906.67V685.34H908.47V682.58H910.27V683.12H912.07V679.97H913.87V682.35H915.67V683.04H917.47V681.44H919.27V680.13H921.07V675.33H922.87V679.88H924.67V683.64H926.47V682.91H928.27V683.81H930.07V686.04H931.87V686.6H933.67V686.6H935.47V686.6H937.27V686.6H939.07V686.6H940.87V680.64H942.67V678.66H944.47V684.16H946.27V686.21H948.07V685.72H949.87V685.09H951.67V682.79H953.47V679.68H955.27V680.75H957.07V675.11H958.87V672.11H960.67V678.53H962.47V679.99H964.27V679.84H966.07V675.16H967.87V686.57H969.67V686.14H971.47V685.76H973.27V685.08H975.07V682.08H976.87V682.88H978.67V680.85H980.47V679.49H982.27V677.94H984.07V678.68H985.87V672.48H987.67V668.45H989.47V671.46H991.27V674.3H993.07V666.51H994.87V667.68H996.67V672.04H998.47V672.2H1000.27V677.96H1002.07V681.65H1003.87V683.65H1005.67V681.69H1007.47V682.78H1009.27V681.77H1011.07V686.56H1012.87V685.53H1014.67V684.51H1016.47V683.89H1018.27V684.55H1020.07V682.92H1021.87V682.75H1023.67V686.52H1025.47V683.88H1027.27V683.29H1029.07V682.08H1030.87V681.7H1032.67V680.48H1034.47V681.29H1036.27V681.39H1038.07V686.59H1039.87V686.4H1041.67V686.24H1043.47V685.87H1045.27V685.76H1047.07V685.33H1048.87V682.45H1050.67V681.71H1052.47V678.57H1054.27V679.47H1056.07V678.08H1057.87V675.05H1059.67V676.55H1061.47V676.97H1063.27V679.6H1065.07V684.43H1066.87V685.45H1068.67V684.96H1070.47V684.99H1072.27V683.01H1074.07V682.96H1075.87V679.14H1077.67V678.23H1079.47V678.97H1081.27V673.46H1083.07V676.15H1084.87V682.82H1086.67V680.08H1088.47V680.97H1090.27V681.8H1092.07V684.54H1093.87V684.77H1095.67V685.05H1097.47V683.63H1099.27V684.65H1101.07V682.71H1102.87V684.33H1104.67V685.27H1106.47V681.45H1108.27V681.87H1110.07V684.32H1111.87V685.67H1113.67V684.7H1115.47V682.46H1117.27V677.64H1119.07V679.27H1120.87V678.62H1122.67V681.3H1124.47V676.41H1126.27V671.27H1128.07V675.39H1129.87V679.33H1131.67V675.54H1133.47V674.73H1135.27V673.38H1137.07V671.52H1138.87V677.12H1140.67V677.63H1142.47V679.8H1144.27V682.18H1146.07V679.78H1147.87V677.33H1149.67V676.39H1151.47V671.61H1153.27V670.8H1155.07V671.7H1156.87V675.91H1158.67V682.09H1160.47V682.52H1162.27V684.24H1164.07V684.42H1164.3V686.6Z" fill="#0b6763"/>
<path d="M952.38 686.6V661.89H953.64V656.48H955.98V663.69H957.43V686.6" fill="#0b6763"/>
<path d="M881.68 475.21V490.18M879.08 475.21H884.28M879.08 490.18H884.28" fill="none" stroke="#1c1c1c" stroke-width="0.9"/>
<path d="M881.68 543.39V554.57M879.08 543.39H884.28M879.08 554.57H884.28" fill="none" stroke="#1c1c1c" stroke-width="0.9"/>
<path d="M881.68 607.78V619.5M879.08 607.78H884.28M879.08 619.5H884.28" fill="none" stroke="#1c1c1c" stroke-width="0.9"/>
<path d="M881.68 642.59V683.53M879.08 642.59H884.28M879.08 683.53H884.28" fill="none" stroke="#1c1c1c" stroke-width="0.9"/>
<line x1="870.67" y1="712.93" x2="1164.3" y2="712.93" stroke="#505050" stroke-width="1.25"/>
<line x1="870.67" y1="717.98" x2="1164.3" y2="717.98" stroke="#505050" stroke-width="1.25"/>
<path d="M968.91 708.13H973.71L971.73 711.03V719.68H970.89V711.03Z" fill="#c1271c"/>
<rect x="953.64" y="726.28" width="53.39" height="11.72" fill="#333333"/>
<rect x="956.34" y="723.75" width="7.76" height="16.23" fill="#333333"/>
<rect x="983.94" y="723.75" width="12.26" height="16.23" fill="#333333"/>
<path d="M970.62 729.74L973.82 732.14L970.62 734.54" fill="none" stroke="#f4f4f4" stroke-width="0.95"/>
<path d="M980 729.74L983.2 732.14L980 734.54" fill="none" stroke="#2626f0" stroke-width="1.1"/>
<rect x="1120.47" y="726.28" width="36.43" height="11.72" fill="#333333"/>
<rect x="1125.16" y="723.75" width="8.48" height="16.23" fill="#333333"/>
<rect x="1138.15" y="723.75" width="11.72" height="16.23" fill="#333333"/>
<path d="M1141.06 729.74L1144.26 732.14L1141.06 734.54" fill="none" stroke="#f4f4f4" stroke-width="0.95"/>
<rect x="1227.95" y="431" width="309.68" height="318" fill="#fafafa"/>
<path d="M1227.95 494.15V482.64H1230.65V482.77H1233.35V482.11H1236.05V486.21H1238.75V485.52H1241.45V486.1H1244.15V485.63H1246.85V486.16H1249.55V485.41H1252.25V485.69H1254.95V485.17H1257.65V484.67H1260.35V483.99H1263.05V484.15H1265.75V484H1268.45V481.77H1271.15V481.18H1273.85V481.89H1276.55V481.95H1279.25V481.92H1281.95V481.34H1284.65V481.48H1287.35V480.72H1290.05V481.52H1292.75V481.71H1295.45V481.14H1298.15V480.74H1300.85V480.43H1303.55V481.81H1306.25V482.78H1308.95V483.85H1311.65V484.09H1314.35V483.68H1317.05V483.61H1319.75V482.11H1322.45V481.55H1325.15V481.71H1327.85V481.44H1330.55V481.31H1333.25V481.48H1335.95V481.35H1338.65V480.75H1341.35V481.56H1344.05V482.28H1346.75V481.99H1349.45V481.74H1352.15V480.68H1354.85V480.93H1357.55V481.59H1360.25V482.11H1362.95V483.35H1365.65V482.36H1368.35V481.23H1371.05V482.13H1373.75V482.3H1376.45V481.8H1379.15V481.19H1381.85V481.25H1384.55V480.67H1387.25V480.92H1389.95V480.79H1392.65V478.76H1395.35V477.23H1398.05V476.02H1400.75V476.09H1403.45V476.81H1406.15V477.76H1408.85V478.99H1411.55V479.92H1414.25V480.32H1416.95V482.09H1419.65V483.41H1422.35V482.01H1425.05V480.02H1427.75V479.7H1430.45V478.36H1433.15V475.58H1435.85V474.03H1438.55V472.3H1441.25V472.38H1443.95V471.74H1446.65V471.56H1449.35V471.29H1452.05V471.32H1454.75V472.59H1457.45V474.84H1460.15V475.14H1462.85V475.69H1465.55V475.63H1468.25V475.13H1470.95V475.16H1473.65V474.56H1476.35V474.13H1479.05V473.33H1481.75V473.77H1484.45V474.26H1487.15V475.1H1489.85V476H1492.55V477.47H1495.25V479.09H1497.95V479.81H1500.65V479.88H1503.35V479.93H1506.05V479.17H1508.75V479.3H1511.45V478.76H1514.15V478.16H1516.85V478.21H1519.55V476.41H1522.25V476.11H1524.95V475.57H1527.65V474.66H1530.35V474.62H1533.05V473.73H1535.75V473.79H1537.63V494.15Z" fill="#999999"/>
<line x1="1227.95" y1="558.08" x2="1537.63" y2="558.08" stroke="#2b5590" stroke-width="1.15"/>
<path d="M1232.82 558.18V554.21H1249.96V558.18M1254.1 558.18V554.21H1279.35V549.52H1290.54V544.65H1297.75V550.61H1302.8V554.21H1311.82V555.47H1321.56V558.18M1346.09 558.18V549.52H1351.5V545.92H1361.78V544.65H1369.54V547H1377.11V538.34H1384.32V541.05H1389.74V547H1395.15V554.21H1400.2V558.18M1448.89 558.18V551.87H1454.67V544.65H1459.72V536.9H1465.49V536.18H1469.45V527.52H1476.31V536.9H1482.62V541.59H1492.54V550.97H1495.79V545.92H1501.2V538.34H1508.77V541.05H1517.79V544.65H1523.2V551.87H1529.52V554.21H1534.38V558.18" fill="#04306a"/>
<line x1="1227.95" y1="622.65" x2="1537.63" y2="622.65" stroke="#3a7fe0" stroke-width="1.15"/>
<path d="M1232.82 622.75V614.09H1240.04V611.93H1245.45V611.39H1250.86V614.09H1256.27V615.54H1260.78V616.26H1266.19V617.34H1275.75V622.75M1279.35 622.75V617.34H1290.54V612.83H1297.75V614.09H1302.8V620.4H1311.82V622.75M1321.2 622.75V621.31H1328.41V622.75M1330.58 622.75V615.54H1342.84V621.31H1346.09V615.54H1351.5V610.48H1367.73V611.39H1374.4V619.5H1377.11V612.83H1388.83V619.14H1400.2V622.75M1448.89 622.75V614.09H1459.72V595.7H1464.59V575.31H1471.8V580.18H1481.36V589.74H1487.49V610.48H1492.54V614.09H1502.46V622.75M1515.99 622.75V619.14H1522.3V620.4H1534.38V621.67H1537.63V622.75" fill="#0a62d6"/>
<line x1="1227.95" y1="686.5" x2="1537.63" y2="686.5" stroke="#2f7d78" stroke-width="1.15"/>
<path d="M1227.95 686.6V686.6H1229.75V686.6H1231.55V686.6H1233.35V686.6H1235.15V686.6H1236.95V686.6H1238.75V686.6H1240.55V686.6H1242.35V686.6H1244.15V686.6H1245.95V686.6H1247.75V682.87H1249.55V679.17H1251.35V679.32H1253.15V686.6H1254.95V686.6H1256.75V686.6H1258.55V678.38H1260.35V675.98H1262.15V677.13H1263.95V676.29H1265.75V676.84H1267.55V673.46H1269.35V674.9H1271.15V674.57H1272.95V665.61H1274.75V657.86H1276.55V655.2H1278.35V659.99H1280.15V671.67H1281.95V664.52H1283.75V660.21H1285.55V658.97H1287.35V658.07H1289.15V659.15H1290.95V652.35H1292.75V655.59H1294.55V659.09H1296.35V664.57H1298.15V663.83H1299.95V671.61H1301.75V678H1303.55V682.45H1305.35V681.94H1307.15V679.07H1308.95V681.14H1310.75V686.6H1312.55V686.6H1314.35V686.6H1316.15V685.73H1317.95V684.43H1319.75V684.96H1321.55V685.04H1323.35V686.6H1325.15V686.6H1326.95V686.6H1328.75V686.6H1330.55V686.6H1332.35V674.84H1334.15V667.3H1335.95V672.23H1337.75V679.37H1339.55V686.03H1341.35V684.82H1343.15V682.06H1344.95V680.93H1346.75V684.36H1348.55V686.6H1350.35V686.6H1352.15V686.6H1353.95V684.84H1355.75V680.32H1357.55V682.21H1359.35V680.3H1361.15V679.49H1362.95V676.57H1364.75V676.41H1366.55V677.15H1368.35V682.09H1370.15V682.74H1371.95V682.59H1373.75V685.59H1375.55V679.73H1377.35V673.26H1379.15V676.47H1380.95V676.71H1382.75V676.04H1384.55V680.52H1386.35V680.78H1388.15V683.28H1389.95V683.59H1391.75V684.65H1393.55V683.98H1395.35V685H1397.15V686.47H1398.95V685.16H1400.75V684.87H1402.55V685.39H1404.35V683.54H1406.15V680.57H1407.95V681.64H1409.75V684.95H1411.55V686.09H1413.35V686.43H1415.15V686.02H1416.95V685.94H1418.75V685.29H1420.55V682.46H1422.35V676.09H1424.15V674.54H1425.95V679.61H1427.75V679.12H1429.55V678.54H1431.35V683.54H1433.15V685.98H1434.95V686.6H1436.75V686.6H1438.55V686.6H1440.35V686.6H1442.15V686.6H1443.95V686.6H1445.75V686.6H1447.55V686.6H1449.35V686.6H1451.15V686.6H1452.95V686.6H1454.75V686.6H1456.55V686.6H1458.35V686.6H1460.15V686.6H1461.95V686.6H1463.75V686.6H1465.55V686.6H1467.35V686.6H1469.15V686.6H1470.95V686.6H1472.75V686.6H1474.55V682.15H1476.35V678.12H1478.15V678.34H1479.95V685.64H1481.75V686.52H1483.55V685.62H1485.35V686.6H1487.15V686.6H1488.95V686.6H1490.75V686.6H1492.55V686.6H1494.35V686.6H1496.15V686.58H1497.95V680.95H1499.75V682.03H1501.55V686.56H1503.35V686.6H1505.15V686.6H1506.95V686.6H1508.75V686.6H1510.55V686.6H1512.35V686.6H1514.15V686.6H1515.95V686.6H1517.75V686.6H1519.55V686.6H1521.35V686.6H1523.15V686.6H1524.95V686.6H1526.75V686.6H1528.55V686.6H1530.35V686.6H1532.15V686.6H1533.95V686.6H1535.75V686.6H1537.55V686.6H1537.63V686.6Z" fill="#0b6763"/>
<path d="M1240.94 475.21V490.18M1238.34 475.21H1243.54M1238.34 490.18H1243.54" fill="none" stroke="#1c1c1c" stroke-width="0.9"/>
<path d="M1240.94 530.77V554.93M1238.34 530.77H1243.54M1238.34 554.93H1243.54" fill="none" stroke="#1c1c1c" stroke-width="0.9"/>
<path d="M1240.94 604.53V619.14M1238.34 604.53H1243.54M1238.34 619.14H1243.54" fill="none" stroke="#1c1c1c" stroke-width="0.9"/>
<path d="M1240.94 627.08V683.53M1238.34 627.08H1243.54M1238.34 683.53H1243.54" fill="none" stroke="#1c1c1c" stroke-width="0.9"/>
<line x1="1227.95" y1="712.93" x2="1537.63" y2="712.93" stroke="#505050" stroke-width="1.25"/>
<line x1="1227.95" y1="717.98" x2="1537.63" y2="717.98" stroke="#505050" stroke-width="1.25"/>
<path d="M1250.62 708.13H1255.42L1253.44 711.03V719.68H1252.6V711.03Z" fill="#c1271c"/>
<path d="M1255.67 708.13H1260.47L1258.49 711.03V719.68H1257.65V711.03Z" fill="#c1271c"/>
<rect x="1254.83" y="724.11" width="41.12" height="15.87" fill="#333333"/>
<path d="M1294.84 729.65L1291.64 732.05L1294.84 734.45" fill="none" stroke="#f4f4f4" stroke-width="0.95"/>
<rect x="1594.04" y="431" width="120.48" height="318" fill="#fafafa"/>
<path d="M1594.04 492.89V483.77H1596.74V481.84H1599.44V481.67H1602.14V482.57H1604.84V485.93H1607.54V485.8H1610.24V484.76H1612.94V486.69H1615.64V485.56H1618.34V484.82H1621.04V485.8H1623.74V485.85H1626.44V485.05H1629.14V485.29H1631.84V485.24H1634.54V484.71H1637.24V484.28H1639.94V482.82H1642.64V476.72H1645.34V474.96H1648.04V478.17H1650.74V482.9H1653.44V488.87H1656.14V491.92H1658.84V491.58H1661.54V486.27H1664.24V484.46H1666.94V482.1H1669.64V481.63H1672.34V483.41H1675.04V482.54H1677.74V481.07H1680.44V481.29H1683.14V481.31H1685.84V484.03H1688.54V489.5H1691.24V487.05H1693.94V485.7H1696.64V486.21H1699.34V485.47H1702.04V485.66H1704.74V485.93H1707.44V485.94H1710.14V486.61H1712.84V487.24H1714.52V492.89Z" fill="#999999"/>
<line x1="1594.04" y1="557.18" x2="1714.52" y2="557.18" stroke="#2b5590" stroke-width="1.15"/>
<path d="M1605.22 557.28V535.09H1608.46V524.27H1612.07V530.22H1613.88V556.38H1616.04V551.87H1623.25V555.47H1630.11V557.28M1637.32 557.28V555.47H1641.83V553.13H1645.44V554.21H1647.24V553.13H1650.31V556.38H1651.75V557.28M1682.05 557.28V555.84H1688.73V557.28M1709.11 557.28V555.84H1714.52V557.28" fill="#04306a"/>
<line x1="1594.04" y1="621.57" x2="1714.52" y2="621.57" stroke="#3a7fe0" stroke-width="1.15"/>
<path d="M1597.64 621.67V620.4H1603.05V619.14H1605.22V598.76H1608.46V585.23H1612.07V591.55H1613.88V620.4H1616.04V621.67M1634.08 621.67V620.4H1638.22V621.67M1640.57 621.67V619.5H1643.64V618.6H1646.34V616.26H1649.95V619.5H1653.92V621.67" fill="#0a62d6"/>
<line x1="1594.04" y1="685.23" x2="1714.52" y2="685.23" stroke="#2f7d78" stroke-width="1.15"/>
<path d="M1594.04 685.33V685.33H1595.84V685.33H1597.64V685.33H1599.44V685.33H1601.24V685.33H1603.04V685.33H1604.84V685.04H1606.64V684.93H1608.44V684.44H1610.24V684.14H1612.04V683.84H1613.84V683.64H1615.64V684.02H1617.44V682.82H1619.24V683.77H1621.04V683.95H1622.84V684.95H1624.64V685.33H1626.44V685.33H1628.24V685.33H1630.04V685.33H1631.84V685.33H1633.64V685.33H1635.44V685.33H1637.24V685.33H1639.04V685.33H1640.84V685.33H1642.64V685.33H1644.44V685.33H1646.24V685.33H1648.04V685.33H1649.84V685.33H1651.64V685.33H1653.44V685.33H1655.24V685.33H1657.04V685.33H1658.84V685.33H1660.64V685.33H1662.44V685.33H1664.24V685.33H1666.04V685.33H1667.84V685.33H1669.64V684.4H1671.44V683.64H1673.24V684.01H1675.04V684.9H1676.84V684.6H1678.64V684.62H1680.44V684.61H1682.24V684.65H1684.04V685.33H1685.84V685.33H1687.64V685.33H1689.44V685.33H1691.24V685.33H1693.04V685.33H1694.84V685.33H1696.64V685.33H1698.44V685.33H1700.24V685.33H1702.04V684.99H1703.84V684.68H1705.64V683.88H1707.44V683.69H1709.24V683.28H1711.04V683.93H1712.84V684.21H1714.52V685.33Z" fill="#0b6763"/>
<path d="M1604.5 685.33V677.22H1606.3V650.16H1609.37V642.05H1611.71V651.97H1613.52V680.83H1614.78V685.33" fill="#0b6763"/>
<path d="M1706.76 475.21V490.18M1704.16 475.21H1709.36M1704.16 490.18H1709.36" fill="none" stroke="#1c1c1c" stroke-width="0.9"/>
<path d="M1706.76 548.8V555.11M1704.16 548.8H1709.36M1704.16 555.11H1709.36" fill="none" stroke="#1c1c1c" stroke-width="0.9"/>
<path d="M1706.76 613.19V619.14M1704.16 613.19H1709.36M1704.16 619.14H1709.36" fill="none" stroke="#1c1c1c" stroke-width="0.9"/>
<path d="M1706.76 668.2V683.17M1704.16 668.2H1709.36M1704.16 683.17H1709.36" fill="none" stroke="#1c1c1c" stroke-width="0.9"/>
<line x1="1594.04" y1="712.03" x2="1714.52" y2="712.03" stroke="#505050" stroke-width="1.25"/>
<line x1="1594.04" y1="716.9" x2="1714.52" y2="716.9" stroke="#505050" stroke-width="1.25"/>
<path d="M1597.05 707.23H1601.85L1599.87 710.13V718.6H1599.03V710.13Z" fill="#c1271c"/>
<path d="M1603.1 707.23H1607.9L1605.92 710.13V718.6H1605.08V710.13Z" fill="#c1271c"/>
<path d="M1604.4 707.23H1609.2L1607.22 710.13V718.6H1606.38V710.13Z" fill="#c1271c"/>
<path d="M1605.7 707.23H1610.5L1608.52 710.13V718.6H1607.68V710.13Z" fill="#c1271c"/>
<path d="M1607 707.23H1611.8L1609.82 710.13V718.6H1608.98V710.13Z" fill="#c1271c"/>
<path d="M1608.3 707.23H1613.1L1611.12 710.13V718.6H1610.28V710.13Z" fill="#c1271c"/>
<path d="M1641.78 707.23H1646.58L1644.6 710.13V718.6H1643.76V710.13Z" fill="#c1271c"/>
<path d="M1647.19 707.23H1651.99L1650.01 710.13V718.6H1649.17V710.13Z" fill="#c1271c"/>
<path d="M1685.6 707.23H1690.4L1688.42 710.13V718.6H1687.58V710.13Z" fill="#c1271c"/>
<path d="M1694.08 707.23H1698.88L1696.9 710.13V718.6H1696.06V710.13Z" fill="#c1271c"/>
<rect x="1678.26" y="725.01" width="19.12" height="11.72" fill="#333333"/>
<rect x="1770.73" y="431" width="209.4" height="318" fill="#fafafa"/>
<path d="M1770.73 492.89V478.17H1773.43V477.62H1776.13V477.62H1778.83V477.29H1781.53V475.57H1784.23V475.72H1786.93V475.49H1789.63V474.55H1792.33V475.14H1795.03V475.32H1797.73V475.58H1800.43V475.42H1803.13V474.98H1805.83V474.22H1808.53V474.66H1811.23V474.6H1813.93V474.87H1816.63V474.27H1819.33V475.52H1822.03V475.04H1824.73V475.13H1827.43V476.47H1830.13V478.06H1832.83V479.53H1835.53V479.85H1838.23V481.19H1840.93V481.28H1843.63V483.09H1846.33V483.29H1849.03V483.92H1851.73V483.5H1854.43V483.42H1857.13V483.38H1859.83V483.97H1862.53V482.93H1865.23V481.3H1867.93V481.34H1870.63V480.91H1873.33V481.33H1876.03V480.69H1878.73V481.18H1881.43V480.33H1884.13V480.8H1886.83V480.22H1889.53V480.4H1892.23V480.63H1894.93V479.89H1897.63V479.57H1900.33V479.8H1903.03V480.13H1905.73V479.63H1908.43V480.15H1911.13V480.29H1913.83V480.88H1916.53V481.27H1919.23V480.55H1921.93V483.92H1924.63V483.48H1927.33V484.16H1930.03V484.31H1932.73V484.08H1935.43V483.95H1938.13V483.41H1940.83V482.87H1943.53V481.85H1946.23V480.77H1948.93V480.15H1951.63V480.3H1954.33V479.29H1957.03V479.51H1959.73V479.03H1962.43V478.71H1965.13V478.51H1967.83V477.89H1970.53V477.06H1973.23V476.71H1975.93V473.95H1978.63V471.12H1980.13V492.89Z" fill="#999999"/>
<line x1="1770.73" y1="557.18" x2="1980.13" y2="557.18" stroke="#2b5590" stroke-width="1.15"/>
<path d="M1770.73 557.28V553.13H1792.91V557.28" fill="#04306a"/>
<line x1="1770.73" y1="621.57" x2="1980.13" y2="621.57" stroke="#3a7fe0" stroke-width="1.15"/>
<path d="M1770.73 621.67V620.4H1792.91V621.67M1905.64 621.67V620.4H1918.26V616.44H1934.5V620.4H1947.12V621.67M1959.75 621.67V620.4H1969.67V619.5H1977.78V617.7H1980.13V621.67" fill="#0a62d6"/>
<line x1="1770.73" y1="685.23" x2="1980.13" y2="685.23" stroke="#2f7d78" stroke-width="1.15"/>
<path d="M1770.73 685.33V682.63H1772.53V682.89H1774.33V683.99H1776.13V685.3H1777.93V685.13H1779.73V684.94H1781.53V684.76H1783.33V684.58H1785.13V684.32H1786.93V683.72H1788.73V684.35H1790.53V685.29H1792.33V685.07H1794.13V684.94H1795.93V684.62H1797.73V684.49H1799.53V684.08H1801.33V683.94H1803.13V683.66H1804.93V683.75H1806.73V683.53H1808.53V683.65H1810.33V682.82H1812.13V682.2H1813.93V681.6H1815.73V682.36H1817.53V683.98H1819.33V684.58H1821.13V684.67H1822.93V684.8H1824.73V684.94H1826.53V685.08H1828.33V685.21H1830.13V685.21H1831.93V684.31H1833.73V683.65H1835.53V684.7H1837.33V685.3H1839.13V685H1840.93V684.7H1842.73V684.53H1844.53V684.06H1846.33V683.3H1848.13V682.77H1849.93V682.97H1851.73V683.26H1853.53V683.88H1855.33V684.1H1857.13V684.16H1858.93V684.46H1860.73V684.76H1862.53V685.06H1864.33V685.3H1866.13V685H1867.93V684.76H1869.73V684.36H1871.53V684.26H1873.33V684.08H1875.13V684.21H1876.93V684.12H1878.73V684.75H1880.53V685.33H1882.33V685.17H1884.13V685.07H1885.93V684.94H1887.73V684.72H1889.53V684.57H1891.33V684.46H1893.13V683.95H1894.93V683.59H1896.73V683.47H1898.53V682.66H1900.33V683.53H1902.13V683.62H1903.93V684.05H1905.73V683.69H1907.53V683.36H1909.33V683.41H1911.13V682.59H1912.93V681.8H1914.73V680.84H1916.53V679.58H1918.33V680.12H1920.13V681H1921.93V681.2H1923.73V681.76H1925.53V683.29H1927.33V684.07H1929.13V684.07H1930.93V683.89H1932.73V684.03H1934.53V683.94H1936.33V683.65H1938.13V683.78H1939.93V684.44H1941.73V685.33H1943.53V684.64H1945.33V683.78H1947.13V683.01H1948.93V683.2H1950.73V683.56H1952.53V684.17H1954.33V684.79H1956.13V684.88H1957.93V684.97H1959.73V685.08H1961.53V685.15H1963.33V685.24H1965.13V685.33H1966.93V685.22H1968.73V685.11H1970.53V684.96H1972.33V684.78H1974.13V684.71H1975.93V684.51H1977.73V682.51H1979.53V679.8H1980.13V685.33Z" fill="#0b6763"/>
<path d="M1970.03 475.21V490.18M1967.43 475.21H1972.63M1967.43 490.18H1972.63" fill="none" stroke="#1c1c1c" stroke-width="0.9"/>
<path d="M1970.03 543.39V554.93M1967.43 543.39H1972.63M1967.43 554.93H1972.63" fill="none" stroke="#1c1c1c" stroke-width="0.9"/>
<path d="M1970.03 607.78V619.14M1967.43 607.78H1972.63M1967.43 619.14H1972.63" fill="none" stroke="#1c1c1c" stroke-width="0.9"/>
<path d="M1970.03 649.8V683.17M1967.43 649.8H1972.63M1967.43 683.17H1972.63" fill="none" stroke="#1c1c1c" stroke-width="0.9"/>
<line x1="1770.73" y1="712.03" x2="1980.13" y2="712.03" stroke="#505050" stroke-width="1.25"/>
<line x1="1770.73" y1="716.9" x2="1980.13" y2="716.9" stroke="#505050" stroke-width="1.25"/>
<path d="M1798.63 707.23H1803.43L1801.45 710.13V718.6H1800.61V710.13Z" fill="#c1271c"/>
<rect x="1774.52" y="725.01" width="201.46" height="11.72" fill="#333333"/>
<rect x="1778.85" y="722.67" width="21.64" height="16.41" fill="#333333"/>
<rect x="1885.8" y="722.67" width="66.73" height="16.41" fill="#333333"/>
<path d="M1792.76 728.48L1795.96 730.88L1792.76 733.28" fill="none" stroke="#f4f4f4" stroke-width="0.95"/>
<path d="M1825.94 728.48L1829.14 730.88L1825.94 733.28" fill="none" stroke="#f4f4f4" stroke-width="0.95"/>
<path d="M1858.95 728.48L1862.15 730.88L1858.95 733.28" fill="none" stroke="#f4f4f4" stroke-width="0.95"/>
<path d="M1892.32 728.48L1895.52 730.88L1892.32 733.28" fill="none" stroke="#f4f4f4" stroke-width="0.95"/>
<path d="M1925.14 728.48L1928.34 730.88L1925.14 733.28" fill="none" stroke="#f4f4f4" stroke-width="0.95"/>
<text x="387.86" y="346.1" font-size="37.4" font-style="italic" stroke="#000" stroke-width="0.25" textLength="88.81" lengthAdjust="spacingAndGlyphs">ARF4</text>
<text x="843.55" y="346.1" font-size="37.4" font-style="italic" stroke="#000" stroke-width="0.25" textLength="111.31" lengthAdjust="spacingAndGlyphs">KNAT3</text>
<text x="1140.96" y="346.1" font-size="37.4" font-style="italic" stroke="#000" stroke-width="0.25" textLength="110.5" lengthAdjust="spacingAndGlyphs">KNAT5</text>
<text x="1503.04" y="346.1" font-size="37.4" font-style="italic" stroke="#000" stroke-width="0.25" textLength="98.07" lengthAdjust="spacingAndGlyphs">NUC1</text>
<text x="317.94" y="784" font-size="37.4" font-style="italic" stroke="#000" stroke-width="0.25" textLength="92.95" lengthAdjust="spacingAndGlyphs">GRF4</text>
<text x="646.38" y="784" font-size="37.4" font-style="italic" stroke="#000" stroke-width="0.25" textLength="121.68" lengthAdjust="spacingAndGlyphs">CDKC2</text>
<text x="875.73" y="784" font-size="37.4" font-style="italic" stroke="#000" stroke-width="0.25" textLength="134.42" lengthAdjust="spacingAndGlyphs">MLP328</text>
<text x="1039.73" y="784" font-size="37.4" font-style="italic" stroke="#000" stroke-width="0.25" textLength="134.42" lengthAdjust="spacingAndGlyphs">MLP329</text>
<text x="1231.77" y="784" font-size="37.4" font-style="italic" stroke="#000" stroke-width="0.25" textLength="108.18" lengthAdjust="spacingAndGlyphs">ERF96</text>
<text x="1837.84" y="784" font-size="37.4" font-style="italic" stroke="#000" stroke-width="0.25" textLength="66.66" lengthAdjust="spacingAndGlyphs">ZR3</text>
<text x="1666.49" y="340" font-size="27.6" font-style="italic" stroke="#000" stroke-width="0.2" textLength="145.87" lengthAdjust="spacingAndGlyphs">AT2G12510</text>
<text x="1821.89" y="362.7" font-size="27.6" font-style="italic" stroke="#000" stroke-width="0.2" textLength="145.77" lengthAdjust="spacingAndGlyphs">AT2G12520</text>
<text x="1581.89" y="780.1" font-size="27.6" font-style="italic" stroke="#000" stroke-width="0.2" textLength="145.08" lengthAdjust="spacingAndGlyphs">AT3G29640</text>
<rect x="8" y="750.3" width="235.5" height="58" fill="#fff" stroke="#222" stroke-width="1.3"/>
<path d="M19.6 758.3H39.3L32 766V799.6H26.9V766Z" fill="#b81d0e"/>
<text x="53.62" y="789.8" font-size="32.3" stroke="#000" stroke-width="0.25" textLength="153.11" lengthAdjust="spacingAndGlyphs">: (AG/AAG)</text>
<text x="206.5" y="792" font-size="19.5" stroke="#000" stroke-width="0.2" textLength="10.86" lengthAdjust="spacingAndGlyphs">n</text>
<text x="-2.93" y="915.7" font-size="55.5" font-weight="bold" textLength="36.48" lengthAdjust="spacingAndGlyphs">b</text>
<rect x="147.3" y="1337.7" width="24.13" height="13.1" fill="#989898"/>
<rect x="171.43" y="1283" width="24.13" height="67.8" fill="#4292c6"/>
<rect x="227.8" y="1338" width="24.13" height="12.8" fill="#989898"/>
<rect x="251.93" y="1320.8" width="24.13" height="30" fill="#4292c6"/>
<rect x="308.3" y="1321.4" width="24.13" height="29.4" fill="#989898"/>
<rect x="332.43" y="1297" width="24.13" height="53.8" fill="#4292c6"/>
<rect x="388.8" y="1165.4" width="24.13" height="185.4" fill="#989898"/>
<rect x="412.93" y="1015.5" width="24.13" height="26.2" fill="#4292c6"/>
<rect x="412.93" y="1061.8" width="24.13" height="289" fill="#4292c6"/>
<rect x="469.3" y="1325.9" width="24.13" height="24.9" fill="#989898"/>
<rect x="493.43" y="978.2" width="24.13" height="63.5" fill="#4292c6"/>
<rect x="493.43" y="1061.8" width="24.13" height="289" fill="#4292c6"/>
<rect x="549.8" y="1298.7" width="24.13" height="52.1" fill="#989898"/>
<rect x="573.93" y="1170.2" width="24.13" height="180.6" fill="#4292c6"/>
<rect x="630.3" y="1338.2" width="24.13" height="12.6" fill="#989898"/>
<rect x="654.43" y="1289.7" width="24.13" height="61.1" fill="#4292c6"/>
<rect x="710.8" y="1339.4" width="24.13" height="11.4" fill="#989898"/>
<rect x="734.93" y="1319.2" width="24.13" height="31.6" fill="#4292c6"/>
<rect x="791.3" y="1339.9" width="24.13" height="10.9" fill="#989898"/>
<rect x="815.43" y="1311.6" width="24.13" height="39.2" fill="#4292c6"/>
<rect x="871.8" y="1331.8" width="24.13" height="19" fill="#989898"/>
<rect x="895.93" y="998.8" width="24.13" height="42.9" fill="#4292c6"/>
<rect x="895.93" y="1061.8" width="24.13" height="289" fill="#4292c6"/>
<rect x="952.3" y="1316.9" width="24.13" height="33.9" fill="#989898"/>
<rect x="976.43" y="1316.9" width="24.13" height="33.9" fill="#4292c6"/>
<path d="M111 1041.7V882.3H1037V1350.8H95M111 1350.8V1061.8" fill="none" stroke="#3c3c3c" stroke-width="1.3"/>
<line x1="95" y1="914.4" x2="111" y2="914.4" stroke="#3c3c3c" stroke-width="1.3"/>
<text x="74.92" y="923.5" font-size="24.3" stroke="#000" stroke-width="0.2" textLength="14.64" lengthAdjust="spacingAndGlyphs">5</text>
<line x1="95" y1="978" x2="111" y2="978" stroke="#3c3c3c" stroke-width="1.3"/>
<text x="74.92" y="987.1" font-size="24.3" stroke="#000" stroke-width="0.2" textLength="14.64" lengthAdjust="spacingAndGlyphs">3</text>
<line x1="95" y1="1041.7" x2="111" y2="1041.7" stroke="#3c3c3c" stroke-width="1.3"/>
<text x="76.81" y="1050.8" font-size="24.3" stroke="#000" stroke-width="0.2" textLength="9.35" lengthAdjust="spacingAndGlyphs">1</text>
<line x1="102.5" y1="1025.8" x2="111" y2="1025.8" stroke="#3c3c3c" stroke-width="1.3"/>
<line x1="102.5" y1="1061.8" x2="111" y2="1061.8" stroke="#3c3c3c" stroke-width="1.3"/>
<text x="74.92" y="1359.9" font-size="24.3" stroke="#000" stroke-width="0.2" textLength="14.64" lengthAdjust="spacingAndGlyphs">0</text>
<line x1="102.5" y1="1318.66" x2="111" y2="1318.66" stroke="#3c3c3c" stroke-width="1.3"/>
<line x1="102.5" y1="1286.53" x2="111" y2="1286.53" stroke="#3c3c3c" stroke-width="1.3"/>
<line x1="102.5" y1="1254.39" x2="111" y2="1254.39" stroke="#3c3c3c" stroke-width="1.3"/>
<line x1="95" y1="1222.25" x2="111" y2="1222.25" stroke="#3c3c3c" stroke-width="1.3"/>
<text x="54.97" y="1231.35" font-size="24.3" stroke="#000" stroke-width="0.2" textLength="34.84" lengthAdjust="spacingAndGlyphs">0.4</text>
<line x1="102.5" y1="1190.11" x2="111" y2="1190.11" stroke="#3c3c3c" stroke-width="1.3"/>
<line x1="102.5" y1="1157.98" x2="111" y2="1157.98" stroke="#3c3c3c" stroke-width="1.3"/>
<line x1="102.5" y1="1125.84" x2="111" y2="1125.84" stroke="#3c3c3c" stroke-width="1.3"/>
<line x1="95" y1="1093.7" x2="111" y2="1093.7" stroke="#3c3c3c" stroke-width="1.3"/>
<text x="54.97" y="1102.8" font-size="24.3" stroke="#000" stroke-width="0.2" textLength="34.84" lengthAdjust="spacingAndGlyphs">0.8</text>
<text transform="translate(37.3 1117.3) rotate(-90)" x="-178.85" y="0" font-size="26" stroke="#000" stroke-width="0.2" textLength="180.5" lengthAdjust="spacingAndGlyphs">ratio of input (%)</text>
<rect x="224.3" y="891" width="685.5" height="42.8" fill="#fff" stroke="#3c3c3c" stroke-width="1.2"/>
<rect x="240.8" y="900.2" width="24.6" height="24.3" rx="4" fill="#989898"/>
<rect x="583" y="900.2" width="24.6" height="24.3" rx="4" fill="#4292c6"/>
<text x="281.95" y="922.6" font-size="30" font-style="italic" stroke="#000" stroke-width="0.2" textLength="281.5" lengthAdjust="spacingAndGlyphs">35S:mCherry:3xFLAG</text>
<text x="624.65" y="922.6" font-size="30" font-style="italic" stroke="#000" stroke-width="0.2" textLength="284.96" lengthAdjust="spacingAndGlyphs">KYPpro::KYP:3xFLAG</text>
<line x1="158.52" y1="1326.17" x2="158.52" y2="1346.37" stroke="#111" stroke-width="1.1"/>
<line x1="156.52" y1="1326.17" x2="160.52" y2="1326.17" stroke="#111" stroke-width="1"/>
<line x1="156.52" y1="1346.37" x2="160.52" y2="1346.37" stroke="#111" stroke-width="1"/>
<circle cx="158.52" cy="1326.17" r="3" fill="#000"/>
<circle cx="158.52" cy="1340.76" r="3" fill="#000"/>
<circle cx="158.52" cy="1345.81" r="3" fill="#000"/>
<circle cx="179.84" cy="1283.53" r="3" fill="#000"/>
<circle cx="184.33" cy="1281.84" r="3" fill="#000"/>
<circle cx="188.54" cy="1283.25" r="3" fill="#000"/>
<circle cx="230.62" cy="1337.96" r="3" fill="#000"/>
<circle cx="238.76" cy="1337.96" r="3" fill="#000"/>
<circle cx="247.45" cy="1335.43" r="3" fill="#000"/>
<line x1="264.57" y1="1318.88" x2="264.57" y2="1323.93" stroke="#111" stroke-width="1.1"/>
<line x1="262.57" y1="1318.88" x2="266.57" y2="1318.88" stroke="#111" stroke-width="1"/>
<line x1="262.57" y1="1323.93" x2="266.57" y2="1323.93" stroke="#111" stroke-width="1"/>
<circle cx="256.15" cy="1324.21" r="3" fill="#000"/>
<circle cx="264.57" cy="1318.88" r="3" fill="#000"/>
<circle cx="273.27" cy="1318.88" r="3" fill="#000"/>
<circle cx="310.86" cy="1323.65" r="3" fill="#000"/>
<circle cx="319.28" cy="1320.84" r="3" fill="#000"/>
<circle cx="327.98" cy="1318.6" r="3" fill="#000"/>
<line x1="345.09" y1="1292.51" x2="345.09" y2="1298.96" stroke="#111" stroke-width="1.1"/>
<line x1="343.09" y1="1292.51" x2="347.09" y2="1292.51" stroke="#111" stroke-width="1"/>
<line x1="343.09" y1="1298.96" x2="347.09" y2="1298.96" stroke="#111" stroke-width="1"/>
<circle cx="336.67" cy="1298.96" r="3" fill="#000"/>
<circle cx="345.09" cy="1298.96" r="3" fill="#000"/>
<circle cx="353.79" cy="1292.22" r="3" fill="#000"/>
<line x1="400.36" y1="1126.41" x2="400.36" y2="1203.57" stroke="#111" stroke-width="1.1"/>
<line x1="398.36" y1="1126.41" x2="402.36" y2="1126.41" stroke="#111" stroke-width="1"/>
<line x1="398.36" y1="1203.57" x2="402.36" y2="1203.57" stroke="#111" stroke-width="1"/>
<circle cx="400.36" cy="1126.41" r="3" fill="#000"/>
<circle cx="400.36" cy="1165.97" r="3" fill="#000"/>
<circle cx="400.36" cy="1203.57" r="3" fill="#000"/>
<line x1="425.15" y1="990.24" x2="425.15" y2="1041.84" stroke="#111" stroke-width="1.1"/>
<line x1="423.15" y1="990.24" x2="427.15" y2="990.24" stroke="#111" stroke-width="1"/>
<line x1="423.15" y1="1041.84" x2="427.15" y2="1041.84" stroke="#111" stroke-width="1"/>
<circle cx="425.65" cy="985.73" r="3" fill="#000"/>
<circle cx="421.39" cy="1033.08" r="3" fill="#000"/>
<circle cx="429.91" cy="1027.82" r="3" fill="#000"/>
<circle cx="476.11" cy="1327.58" r="3" fill="#000"/>
<circle cx="480.32" cy="1322.53" r="3" fill="#000"/>
<circle cx="484.81" cy="1326.45" r="3" fill="#000"/>
<line x1="505.56" y1="954.67" x2="505.56" y2="1006.52" stroke="#111" stroke-width="1.1"/>
<line x1="503.56" y1="954.67" x2="507.56" y2="954.67" stroke="#111" stroke-width="1"/>
<line x1="503.56" y1="1006.52" x2="507.56" y2="1006.52" stroke="#111" stroke-width="1"/>
<circle cx="501.8" cy="965.19" r="3" fill="#000"/>
<circle cx="510.57" cy="964.44" r="3" fill="#000"/>
<circle cx="506.06" cy="1005.77" r="3" fill="#000"/>
<line x1="560.88" y1="1291.38" x2="560.88" y2="1305.69" stroke="#111" stroke-width="1.1"/>
<line x1="558.88" y1="1291.38" x2="562.88" y2="1291.38" stroke="#111" stroke-width="1"/>
<line x1="558.88" y1="1305.69" x2="562.88" y2="1305.69" stroke="#111" stroke-width="1"/>
<circle cx="556.67" cy="1298.4" r="3" fill="#000"/>
<circle cx="560.88" cy="1305.69" r="3" fill="#000"/>
<circle cx="565.09" cy="1291.38" r="3" fill="#000"/>
<line x1="586.41" y1="1147.17" x2="586.41" y2="1190.1" stroke="#111" stroke-width="1.1"/>
<line x1="584.41" y1="1147.17" x2="588.41" y2="1147.17" stroke="#111" stroke-width="1"/>
<line x1="584.41" y1="1190.1" x2="588.41" y2="1190.1" stroke="#111" stroke-width="1"/>
<circle cx="586.69" cy="1147.17" r="3" fill="#000"/>
<circle cx="586.69" cy="1178.88" r="3" fill="#000"/>
<circle cx="586.41" cy="1184.49" r="3" fill="#000"/>
<circle cx="632.99" cy="1341.88" r="3" fill="#000"/>
<circle cx="641.4" cy="1336.83" r="3" fill="#000"/>
<circle cx="650.1" cy="1335.43" r="3" fill="#000"/>
<line x1="666.93" y1="1274.83" x2="666.93" y2="1303.17" stroke="#111" stroke-width="1.1"/>
<line x1="664.93" y1="1274.83" x2="668.93" y2="1274.83" stroke="#111" stroke-width="1"/>
<line x1="664.93" y1="1303.17" x2="668.93" y2="1303.17" stroke="#111" stroke-width="1"/>
<circle cx="666.93" cy="1274.83" r="3" fill="#000"/>
<circle cx="666.93" cy="1290.26" r="3" fill="#000"/>
<circle cx="666.93" cy="1303.17" r="3" fill="#000"/>
<circle cx="713.51" cy="1340.2" r="3" fill="#000"/>
<circle cx="721.92" cy="1339.64" r="3" fill="#000"/>
<circle cx="730.62" cy="1338.52" r="3" fill="#000"/>
<circle cx="743.25" cy="1321.68" r="3" fill="#000"/>
<circle cx="747.45" cy="1315.79" r="3" fill="#000"/>
<circle cx="751.94" cy="1319.72" r="3" fill="#000"/>
<circle cx="793.75" cy="1341.04" r="3" fill="#000"/>
<circle cx="802.44" cy="1340.76" r="3" fill="#000"/>
<circle cx="811.14" cy="1337.68" r="3" fill="#000"/>
<line x1="827.98" y1="1303.73" x2="827.98" y2="1317.76" stroke="#111" stroke-width="1.1"/>
<line x1="825.98" y1="1303.73" x2="829.98" y2="1303.73" stroke="#111" stroke-width="1"/>
<line x1="825.98" y1="1317.76" x2="829.98" y2="1317.76" stroke="#111" stroke-width="1"/>
<circle cx="823.49" cy="1316.91" r="3" fill="#000"/>
<circle cx="827.98" cy="1303.73" r="3" fill="#000"/>
<circle cx="832.46" cy="1315.51" r="3" fill="#000"/>
<circle cx="874.27" cy="1332.91" r="3" fill="#000"/>
<circle cx="882.97" cy="1332.91" r="3" fill="#000"/>
<circle cx="891.38" cy="1328.14" r="3" fill="#000"/>
<line x1="908.2" y1="986.48" x2="908.2" y2="1013.54" stroke="#111" stroke-width="1.1"/>
<line x1="906.2" y1="986.48" x2="910.2" y2="986.48" stroke="#111" stroke-width="1"/>
<line x1="906.2" y1="1013.54" x2="910.2" y2="1013.54" stroke="#111" stroke-width="1"/>
<circle cx="908.45" cy="986.48" r="3" fill="#000"/>
<circle cx="908.45" cy="996.5" r="3" fill="#000"/>
<circle cx="908.45" cy="1013.29" r="3" fill="#000"/>
<line x1="963.49" y1="1308.78" x2="963.49" y2="1323.37" stroke="#111" stroke-width="1.1"/>
<line x1="961.49" y1="1308.78" x2="965.49" y2="1308.78" stroke="#111" stroke-width="1"/>
<line x1="961.49" y1="1323.37" x2="965.49" y2="1323.37" stroke="#111" stroke-width="1"/>
<circle cx="959" cy="1322.53" r="3" fill="#000"/>
<circle cx="963.49" cy="1308.78" r="3" fill="#000"/>
<circle cx="967.7" cy="1320" r="3" fill="#000"/>
<circle cx="985.09" cy="1316.91" r="3" fill="#000"/>
<circle cx="989.3" cy="1319.44" r="3" fill="#000"/>
<circle cx="993.51" cy="1314.39" r="3" fill="#000"/>
<text x="180.48" y="1270.24" font-size="21.5" text-anchor="middle" font-family="'Liberation Serif', serif">*</text>
<text x="188.18" y="1270.24" font-size="21.5" text-anchor="middle" font-family="'Liberation Serif', serif">*</text>
<text x="262.89" y="1308.12" font-size="21.5" text-anchor="middle" font-family="'Liberation Serif', serif">*</text>
<text x="340.4" y="1282.3" font-size="21.5" text-anchor="middle" font-family="'Liberation Serif', serif">*</text>
<text x="348.1" y="1282.3" font-size="21.5" text-anchor="middle" font-family="'Liberation Serif', serif">*</text>
<text x="420.3" y="975.19" font-size="21.5" text-anchor="middle" font-family="'Liberation Serif', serif">*</text>
<text x="428" y="975.19" font-size="21.5" text-anchor="middle" font-family="'Liberation Serif', serif">*</text>
<text x="501.71" y="953.4" font-size="21.5" text-anchor="middle" font-family="'Liberation Serif', serif">*</text>
<text x="509.41" y="953.4" font-size="21.5" text-anchor="middle" font-family="'Liberation Serif', serif">*</text>
<text x="582" y="1139.22" font-size="21.5" text-anchor="middle" font-family="'Liberation Serif', serif">*</text>
<text x="589.7" y="1139.22" font-size="21.5" text-anchor="middle" font-family="'Liberation Serif', serif">*</text>
<text x="663.36" y="1259.02" font-size="21.5" text-anchor="middle" font-family="'Liberation Serif', serif">*</text>
<text x="671.06" y="1259.02" font-size="21.5" text-anchor="middle" font-family="'Liberation Serif', serif">*</text>
<text x="744.45" y="1308.68" font-size="21.5" text-anchor="middle" font-family="'Liberation Serif', serif">*</text>
<text x="752.15" y="1308.68" font-size="21.5" text-anchor="middle" font-family="'Liberation Serif', serif">*</text>
<text x="823" y="1297.17" font-size="21.5" text-anchor="middle" font-family="'Liberation Serif', serif">*</text>
<text x="830.7" y="1297.17" font-size="21.5" text-anchor="middle" font-family="'Liberation Serif', serif">*</text>
<text x="903.59" y="975.19" font-size="21.5" text-anchor="middle" font-family="'Liberation Serif', serif">*</text>
<text x="911.29" y="975.19" font-size="21.5" text-anchor="middle" font-family="'Liberation Serif', serif">*</text>
<text transform="translate(190.43 1382.2) rotate(-59)" font-size="28.8" text-anchor="end" font-style="italic" font-weight="bold" stroke="#000" stroke-width="0.45">ARF4</text>
<text transform="translate(270.93 1382.2) rotate(-59)" font-size="28.8" text-anchor="end" font-style="italic" font-weight="bold" stroke="#000" stroke-width="0.45">KNAT3</text>
<text transform="translate(351.43 1382.2) rotate(-59)" font-size="28.8" text-anchor="end" font-style="italic" font-weight="bold" stroke="#000" stroke-width="0.45">KNAT5</text>
<text transform="translate(431.93 1382.2) rotate(-59)" font-size="28.8" text-anchor="end" font-style="italic" font-weight="bold" stroke="#000" stroke-width="0.45">NUC1</text>
<text transform="translate(512.43 1382.2) rotate(-59)" font-size="28.8" text-anchor="end" font-style="italic" font-weight="bold" stroke="#000" stroke-width="0.45">GRF4</text>
<text transform="translate(592.93 1382.2) rotate(-59)" font-size="28.8" text-anchor="end" font-style="italic" font-weight="bold" stroke="#000" stroke-width="0.45">CDKC2</text>
<text transform="translate(673.43 1382.2) rotate(-59)" font-size="28.8" text-anchor="end" font-style="italic" font-weight="bold" stroke="#000" stroke-width="0.45">MLP328</text>
<text transform="translate(753.93 1382.2) rotate(-59)" font-size="28.8" text-anchor="end" font-style="italic" font-weight="bold" stroke="#000" stroke-width="0.45">ERF96</text>
<text transform="translate(834.43 1382.2) rotate(-59)" font-size="28.8" text-anchor="end" font-style="italic" font-weight="bold" stroke="#000" stroke-width="0.45">AT2G12510</text>
<text transform="translate(914.93 1382.2) rotate(-59)" font-size="28.8" text-anchor="end" font-style="italic" font-weight="bold" stroke="#000" stroke-width="0.45">AT3G29640</text>
<text transform="translate(995.43 1382.2) rotate(-59)" font-size="28.8" text-anchor="end" font-style="italic" font-weight="bold" stroke="#000" stroke-width="0.45">ACT2</text>
<text x="1095.57" y="915.6" font-size="58" font-weight="bold" textLength="31.15" lengthAdjust="spacingAndGlyphs">c</text>
<rect x="1240.5" y="1285.9" width="20.05" height="72.1" fill="#d9d9d9"/>
<rect x="1260.55" y="1203.5" width="20.05" height="154.5" fill="#084f85"/>
<rect x="1307.53" y="1285.9" width="20.05" height="72.1" fill="#d9d9d9"/>
<rect x="1327.58" y="1235.3" width="20.05" height="122.7" fill="#084f85"/>
<rect x="1374.56" y="1285.9" width="20.05" height="72.1" fill="#d9d9d9"/>
<rect x="1394.61" y="1245.3" width="20.05" height="112.7" fill="#084f85"/>
<rect x="1441.59" y="1285.9" width="20.05" height="72.1" fill="#d9d9d9"/>
<rect x="1461.64" y="1191.9" width="20.05" height="166.1" fill="#084f85"/>
<rect x="1508.62" y="1285.9" width="20.05" height="72.1" fill="#d9d9d9"/>
<rect x="1528.67" y="1208" width="20.05" height="150" fill="#084f85"/>
<rect x="1575.65" y="1285.9" width="20.05" height="72.1" fill="#d9d9d9"/>
<rect x="1595.7" y="1199.9" width="20.05" height="158.1" fill="#084f85"/>
<rect x="1642.68" y="1285.9" width="20.05" height="72.1" fill="#d9d9d9"/>
<rect x="1662.73" y="1206.2" width="20.05" height="151.8" fill="#084f85"/>
<rect x="1709.71" y="1288.2" width="20.05" height="69.8" fill="#d9d9d9"/>
<rect x="1730.26" y="995" width="19.05" height="54" fill="#084f85" stroke="#0a2a47" stroke-width="1"/>
<rect x="1729.76" y="1069.1" width="20.05" height="288.9" fill="#084f85"/>
<rect x="1863.5" y="1285.9" width="20.05" height="72.1" fill="#084f85"/>
<rect x="1930.4" y="1285.9" width="20.05" height="72.1" fill="#084f85"/>
<path d="M1211 1049V889.5M1195 889.5H1788.5M1807.6 889.5H1981V1358H1807.6M1788.5 1358H1195M1211 1358V1069.1" fill="none" stroke="#3c3c3c" stroke-width="1.3"/>
<text x="1161.05" y="898.5" font-size="24.3" stroke="#000" stroke-width="0.2" textLength="28.33" lengthAdjust="spacingAndGlyphs">25</text>
<line x1="1195" y1="969.4" x2="1211" y2="969.4" stroke="#3c3c3c" stroke-width="1.3"/>
<text x="1163.65" y="978.4" font-size="24.3" stroke="#000" stroke-width="0.2" textLength="25.63" lengthAdjust="spacingAndGlyphs">15</text>
<text x="1174.54" y="1367" font-size="24.3" stroke="#000" stroke-width="0.2" textLength="14.3" lengthAdjust="spacingAndGlyphs">0</text>
<line x1="1202" y1="1285.77" x2="1211" y2="1285.77" stroke="#3c3c3c" stroke-width="1.3"/>
<line x1="1195" y1="1213.54" x2="1211" y2="1213.54" stroke="#3c3c3c" stroke-width="1.3"/>
<text x="1174.54" y="1222.54" font-size="24.3" stroke="#000" stroke-width="0.2" textLength="14.3" lengthAdjust="spacingAndGlyphs">2</text>
<line x1="1202" y1="1141.31" x2="1211" y2="1141.31" stroke="#3c3c3c" stroke-width="1.3"/>
<line x1="1195" y1="1069.08" x2="1211" y2="1069.08" stroke="#3c3c3c" stroke-width="1.3"/>
<text x="1175.6" y="1078.08" font-size="24.3" stroke="#000" stroke-width="0.2" textLength="13.2" lengthAdjust="spacingAndGlyphs">4</text>
<text transform="translate(1136.4 1112.8) rotate(-90)" x="-201.68" y="0" font-size="24.8" stroke="#000" stroke-width="0.2" textLength="202.41" lengthAdjust="spacingAndGlyphs">relative expression</text>
<rect x="1259.8" y="911.8" width="316.2" height="77.4" fill="#fff" stroke="#3c3c3c" stroke-width="1.2"/>
<rect x="1276.1" y="921.4" width="24.6" height="24.3" rx="4" fill="#e2e2e2"/>
<rect x="1276.1" y="955.7" width="24.6" height="24.3" rx="4" fill="#084f85"/>
<text x="1317.28" y="943.9" font-size="30" font-style="italic" stroke="#000" stroke-width="0.2" textLength="44.76" lengthAdjust="spacingAndGlyphs">WT</text>
<text x="1317.9" y="978.2" font-size="30" font-style="italic" stroke="#000" stroke-width="0.2" textLength="223.16" lengthAdjust="spacingAndGlyphs">hda6/kyp/suvh5/6</text>
<line x1="1250.3" y1="1255.31" x2="1250.3" y2="1316.68" stroke="#111" stroke-width="1.1"/>
<line x1="1248.3" y1="1255.31" x2="1252.3" y2="1255.31" stroke="#111" stroke-width="1"/>
<line x1="1248.3" y1="1316.68" x2="1252.3" y2="1316.68" stroke="#111" stroke-width="1"/>
<circle cx="1250.05" cy="1251.3" r="3" fill="#000"/>
<circle cx="1250.05" cy="1297.9" r="3" fill="#000"/>
<circle cx="1250.05" cy="1308.42" r="3" fill="#000"/>
<line x1="1271.34" y1="1152.61" x2="1271.34" y2="1254.56" stroke="#111" stroke-width="1.1"/>
<line x1="1269.34" y1="1152.61" x2="1273.34" y2="1152.61" stroke="#111" stroke-width="1"/>
<line x1="1269.34" y1="1254.56" x2="1273.34" y2="1254.56" stroke="#111" stroke-width="1"/>
<circle cx="1271.34" cy="1147.34" r="3" fill="#000"/>
<circle cx="1271.34" cy="1217.23" r="3" fill="#000"/>
<circle cx="1271.34" cy="1246.54" r="3" fill="#000"/>
<line x1="1317.18" y1="1273.35" x2="1317.18" y2="1298.4" stroke="#111" stroke-width="1.1"/>
<line x1="1315.18" y1="1273.35" x2="1319.18" y2="1273.35" stroke="#111" stroke-width="1"/>
<line x1="1315.18" y1="1298.4" x2="1319.18" y2="1298.4" stroke="#111" stroke-width="1"/>
<circle cx="1317.18" cy="1273.35" r="3" fill="#000"/>
<circle cx="1317.18" cy="1285.87" r="3" fill="#000"/>
<circle cx="1317.18" cy="1298.4" r="3" fill="#000"/>
<line x1="1338.23" y1="1214.98" x2="1338.23" y2="1259.57" stroke="#111" stroke-width="1.1"/>
<line x1="1336.23" y1="1214.98" x2="1340.23" y2="1214.98" stroke="#111" stroke-width="1"/>
<line x1="1336.23" y1="1259.57" x2="1340.23" y2="1259.57" stroke="#111" stroke-width="1"/>
<circle cx="1338.23" cy="1214.98" r="3" fill="#000"/>
<circle cx="1338.23" cy="1231.51" r="3" fill="#000"/>
<circle cx="1338.23" cy="1259.57" r="3" fill="#000"/>
<line x1="1384.07" y1="1266.33" x2="1384.07" y2="1304.66" stroke="#111" stroke-width="1.1"/>
<line x1="1382.07" y1="1266.33" x2="1386.07" y2="1266.33" stroke="#111" stroke-width="1"/>
<line x1="1382.07" y1="1304.66" x2="1386.07" y2="1304.66" stroke="#111" stroke-width="1"/>
<circle cx="1384.07" cy="1266.33" r="3" fill="#000"/>
<circle cx="1384.07" cy="1286.37" r="3" fill="#000"/>
<circle cx="1384.07" cy="1304.66" r="3" fill="#000"/>
<line x1="1404.86" y1="1210.22" x2="1404.86" y2="1280.36" stroke="#111" stroke-width="1.1"/>
<line x1="1402.86" y1="1210.22" x2="1406.86" y2="1210.22" stroke="#111" stroke-width="1"/>
<line x1="1402.86" y1="1280.36" x2="1406.86" y2="1280.36" stroke="#111" stroke-width="1"/>
<circle cx="1401.35" cy="1227" r="3" fill="#000"/>
<circle cx="1409.87" cy="1223.5" r="3" fill="#000"/>
<circle cx="1405.36" cy="1285.87" r="3" fill="#000"/>
<line x1="1451.2" y1="1275.6" x2="1451.2" y2="1298.65" stroke="#111" stroke-width="1.1"/>
<line x1="1449.2" y1="1275.6" x2="1453.2" y2="1275.6" stroke="#111" stroke-width="1"/>
<line x1="1449.2" y1="1298.65" x2="1453.2" y2="1298.65" stroke="#111" stroke-width="1"/>
<circle cx="1451.2" cy="1275.6" r="3" fill="#000"/>
<circle cx="1451.2" cy="1283.62" r="3" fill="#000"/>
<circle cx="1451.2" cy="1298.65" r="3" fill="#000"/>
<line x1="1472.24" y1="1164.38" x2="1472.24" y2="1219.49" stroke="#111" stroke-width="1.1"/>
<line x1="1470.24" y1="1164.38" x2="1474.24" y2="1164.38" stroke="#111" stroke-width="1"/>
<line x1="1470.24" y1="1219.49" x2="1474.24" y2="1219.49" stroke="#111" stroke-width="1"/>
<circle cx="1472.24" cy="1160.37" r="3" fill="#000"/>
<circle cx="1468.24" cy="1207.72" r="3" fill="#000"/>
<circle cx="1476.75" cy="1207.72" r="3" fill="#000"/>
<line x1="1518.09" y1="1273.35" x2="1518.09" y2="1298.4" stroke="#111" stroke-width="1.1"/>
<line x1="1516.09" y1="1273.35" x2="1520.09" y2="1273.35" stroke="#111" stroke-width="1"/>
<line x1="1516.09" y1="1298.4" x2="1520.09" y2="1298.4" stroke="#111" stroke-width="1"/>
<circle cx="1518.09" cy="1273.35" r="3" fill="#000"/>
<circle cx="1518.09" cy="1285.87" r="3" fill="#000"/>
<circle cx="1518.09" cy="1298.4" r="3" fill="#000"/>
<line x1="1539.38" y1="1172.65" x2="1539.38" y2="1248.55" stroke="#111" stroke-width="1.1"/>
<line x1="1537.38" y1="1172.65" x2="1541.38" y2="1172.65" stroke="#111" stroke-width="1"/>
<line x1="1537.38" y1="1248.55" x2="1541.38" y2="1248.55" stroke="#111" stroke-width="1"/>
<circle cx="1539.38" cy="1172.65" r="3" fill="#000"/>
<circle cx="1539.38" cy="1202.96" r="3" fill="#000"/>
<circle cx="1539.38" cy="1248.55" r="3" fill="#000"/>
<line x1="1585.47" y1="1257.45" x2="1585.47" y2="1313.99" stroke="#111" stroke-width="1.1"/>
<line x1="1583.47" y1="1257.45" x2="1587.47" y2="1257.45" stroke="#111" stroke-width="1"/>
<line x1="1583.47" y1="1313.99" x2="1587.47" y2="1313.99" stroke="#111" stroke-width="1"/>
<circle cx="1584.8" cy="1253.1" r="3" fill="#000"/>
<circle cx="1580.45" cy="1301.95" r="3" fill="#000"/>
<circle cx="1589.15" cy="1301.95" r="3" fill="#000"/>
<line x1="1605.88" y1="1168.45" x2="1605.88" y2="1229.68" stroke="#111" stroke-width="1.1"/>
<line x1="1603.88" y1="1168.45" x2="1607.88" y2="1168.45" stroke="#111" stroke-width="1"/>
<line x1="1603.88" y1="1229.68" x2="1607.88" y2="1229.68" stroke="#111" stroke-width="1"/>
<circle cx="1601.86" cy="1183.5" r="3" fill="#000"/>
<circle cx="1610.56" cy="1180.16" r="3" fill="#000"/>
<circle cx="1606.21" cy="1235.7" r="3" fill="#000"/>
<line x1="1652.05" y1="1277.86" x2="1652.05" y2="1293.92" stroke="#111" stroke-width="1.1"/>
<line x1="1650.05" y1="1277.86" x2="1654.05" y2="1277.86" stroke="#111" stroke-width="1"/>
<line x1="1650.05" y1="1293.92" x2="1654.05" y2="1293.92" stroke="#111" stroke-width="1"/>
<circle cx="1652.05" cy="1277.86" r="3" fill="#000"/>
<circle cx="1652.05" cy="1285.55" r="3" fill="#000"/>
<circle cx="1652.05" cy="1293.92" r="3" fill="#000"/>
<line x1="1673.13" y1="1164.77" x2="1673.13" y2="1243.73" stroke="#111" stroke-width="1.1"/>
<line x1="1671.13" y1="1164.77" x2="1675.13" y2="1164.77" stroke="#111" stroke-width="1"/>
<line x1="1671.13" y1="1243.73" x2="1675.13" y2="1243.73" stroke="#111" stroke-width="1"/>
<circle cx="1673.13" cy="1164.77" r="3" fill="#000"/>
<circle cx="1673.13" cy="1216.63" r="3" fill="#000"/>
<circle cx="1673.13" cy="1237.71" r="3" fill="#000"/>
<line x1="1719.3" y1="1283.55" x2="1719.3" y2="1288.23" stroke="#111" stroke-width="1.1"/>
<line x1="1717.3" y1="1283.55" x2="1721.3" y2="1283.55" stroke="#111" stroke-width="1"/>
<line x1="1717.3" y1="1288.23" x2="1721.3" y2="1288.23" stroke="#111" stroke-width="1"/>
<circle cx="1710.6" cy="1289.57" r="3" fill="#000"/>
<circle cx="1719.3" cy="1285.22" r="3" fill="#000"/>
<circle cx="1727.33" cy="1282.88" r="3" fill="#000"/>
<line x1="1740.38" y1="976.4" x2="1740.38" y2="1010.53" stroke="#111" stroke-width="1.1"/>
<line x1="1738.38" y1="976.4" x2="1742.38" y2="976.4" stroke="#111" stroke-width="1"/>
<line x1="1738.38" y1="1010.53" x2="1742.38" y2="1010.53" stroke="#111" stroke-width="1"/>
<circle cx="1740.38" cy="976.4" r="3" fill="#000"/>
<circle cx="1736.03" cy="1005.51" r="3" fill="#000"/>
<circle cx="1744.39" cy="1002.5" r="3" fill="#000"/>
<line x1="1873.88" y1="1263.14" x2="1873.88" y2="1305.63" stroke="#111" stroke-width="1.1"/>
<line x1="1871.88" y1="1263.14" x2="1875.88" y2="1263.14" stroke="#111" stroke-width="1"/>
<line x1="1871.88" y1="1305.63" x2="1875.88" y2="1305.63" stroke="#111" stroke-width="1"/>
<circle cx="1873.88" cy="1263.14" r="3" fill="#000"/>
<circle cx="1873.88" cy="1288.23" r="3" fill="#000"/>
<circle cx="1873.88" cy="1305.63" r="3" fill="#000"/>
<line x1="1940.46" y1="1246.41" x2="1940.46" y2="1325.03" stroke="#111" stroke-width="1.1"/>
<line x1="1938.46" y1="1246.41" x2="1942.46" y2="1246.41" stroke="#111" stroke-width="1"/>
<line x1="1938.46" y1="1325.03" x2="1942.46" y2="1325.03" stroke="#111" stroke-width="1"/>
<circle cx="1941.46" cy="1241.39" r="3" fill="#000"/>
<circle cx="1941.13" cy="1298.6" r="3" fill="#000"/>
<circle cx="1941.13" cy="1317.34" r="3" fill="#000"/>
<text x="1269" y="1121.27" font-size="21.5" text-anchor="middle" font-family="'Liberation Serif', serif">*</text>
<text x="1276.7" y="1121.27" font-size="21.5" text-anchor="middle" font-family="'Liberation Serif', serif">*</text>
<text x="1333.12" y="1201.93" font-size="21.5" text-anchor="middle" font-family="'Liberation Serif', serif">*</text>
<text x="1340.82" y="1201.93" font-size="21.5" text-anchor="middle" font-family="'Liberation Serif', serif">*</text>
<text x="1403.11" y="1196.92" font-size="21.5" text-anchor="middle" font-family="'Liberation Serif', serif">*</text>
<text x="1467.89" y="1131.79" font-size="21.5" text-anchor="middle" font-family="'Liberation Serif', serif">*</text>
<text x="1475.59" y="1131.79" font-size="21.5" text-anchor="middle" font-family="'Liberation Serif', serif">*</text>
<text x="1535.03" y="1154.34" font-size="21.5" text-anchor="middle" font-family="'Liberation Serif', serif">*</text>
<text x="1542.73" y="1154.34" font-size="21.5" text-anchor="middle" font-family="'Liberation Serif', serif">*</text>
<text x="1601.69" y="1154.36" font-size="21.5" text-anchor="middle" font-family="'Liberation Serif', serif">*</text>
<text x="1609.39" y="1154.36" font-size="21.5" text-anchor="middle" font-family="'Liberation Serif', serif">*</text>
<text x="1668.27" y="1139.3" font-size="21.5" text-anchor="middle" font-family="'Liberation Serif', serif">*</text>
<text x="1675.97" y="1139.3" font-size="21.5" text-anchor="middle" font-family="'Liberation Serif', serif">*</text>
<text x="1734.86" y="953.27" font-size="21.5" text-anchor="middle" font-family="'Liberation Serif', serif">*</text>
<text x="1742.56" y="953.27" font-size="21.5" text-anchor="middle" font-family="'Liberation Serif', serif">*</text>
<text x="1869.02" y="1243.02" font-size="21.5" text-anchor="middle" font-family="'Liberation Serif', serif">*</text>
<text x="1876.72" y="1243.02" font-size="21.5" text-anchor="middle" font-family="'Liberation Serif', serif">*</text>
<text x="1936.61" y="1223.62" font-size="21.5" text-anchor="middle" font-family="'Liberation Serif', serif">*</text>
<text x="1944.31" y="1223.62" font-size="21.5" text-anchor="middle" font-family="'Liberation Serif', serif">*</text>
<text x="1833.5" y="1353.6" font-size="19.5" fill="#8a8a8a">ND</text>
<text x="1900.8" y="1353.6" font-size="19.5" fill="#8a8a8a">ND</text>
<text transform="translate(1279.55 1390.2) rotate(-59)" font-size="28.8" text-anchor="end" font-style="italic" font-weight="bold" stroke="#000" stroke-width="0.45">ARF4</text>
<text transform="translate(1346.58 1390.2) rotate(-59)" font-size="28.8" text-anchor="end" font-style="italic" font-weight="bold" stroke="#000" stroke-width="0.45">KNAT3</text>
<text transform="translate(1413.61 1390.2) rotate(-59)" font-size="28.8" text-anchor="end" font-style="italic" font-weight="bold" stroke="#000" stroke-width="0.45">KNAT5</text>
<text transform="translate(1480.64 1390.2) rotate(-59)" font-size="28.8" text-anchor="end" font-style="italic" font-weight="bold" stroke="#000" stroke-width="0.45">NUC1</text>
<text transform="translate(1547.67 1390.2) rotate(-59)" font-size="28.8" text-anchor="end" font-style="italic" font-weight="bold" stroke="#000" stroke-width="0.45">GRF4</text>
<text transform="translate(1614.7 1390.2) rotate(-59)" font-size="28.8" text-anchor="end" font-style="italic" font-weight="bold" stroke="#000" stroke-width="0.45">CDKC2</text>
<text transform="translate(1681.73 1390.2) rotate(-59)" font-size="28.8" text-anchor="end" font-style="italic" font-weight="bold" stroke="#000" stroke-width="0.45">MLP328</text>
<text transform="translate(1748.76 1390.2) rotate(-59)" font-size="28.8" text-anchor="end" font-style="italic" font-weight="bold" stroke="#000" stroke-width="0.45">ERF96</text>
<text transform="translate(1882.5 1390.2) rotate(-59)" font-size="28.8" text-anchor="end" font-style="italic" font-weight="bold" stroke="#000" stroke-width="0.45">AT2G12510</text>
<text transform="translate(1949.4 1390.2) rotate(-59)" font-size="28.8" text-anchor="end" font-style="italic" font-weight="bold" stroke="#000" stroke-width="0.45">AT3G29640</text>
</svg>
</body></html>
